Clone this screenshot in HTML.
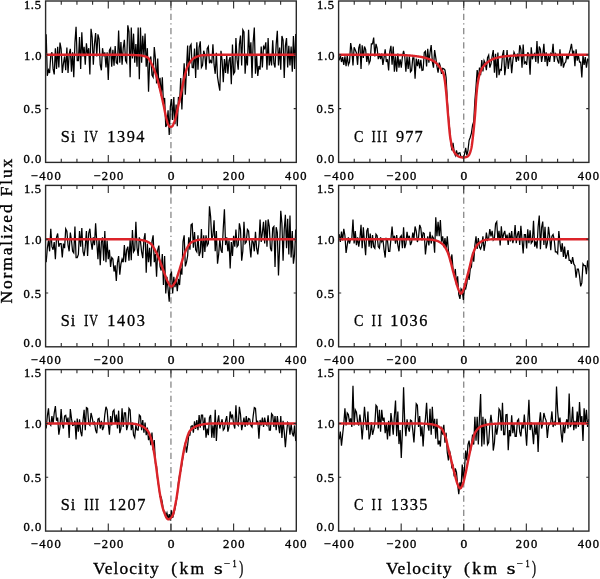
<!DOCTYPE html>
<html><head><meta charset="utf-8"><style>html,body{margin:0;padding:0;background:#fff;width:600px;height:579px;overflow:hidden}svg{display:block;will-change:transform}text{fill:#000}</style></head>
<body><svg width="600" height="579" viewBox="0 0 600 579"><clipPath id="c0"><rect x="45.6" y="1" width="250.7" height="161.4"/></clipPath><path d="M170.95 162.4V1" stroke="#7e7e7e" stroke-width="1.2" stroke-dasharray="6.2 3.4 1.3 3.35" stroke-dashoffset="0" fill="none"/><path clip-path="url(#c0)" d="M46.18 34.34 47.32 75.79 48.48 69.98 49.62 73.03 50.78 55.07 51.93 52.3 53.07 68.88 54.23 74.41 55.38 48.16 56.53 69.06 57.67 46.78 58.83 67.5 59.98 42.63 61.12 48.85 62.28 73.03 63.42 63.71 64.58 56.45 65.72 70.26 66.88 47.47 68.03 73.03 69.17 54.17 70.33 48.85 71.47 71.65 72.62 52.3 73.77 77.17 74.93 42.63 76.07 26.74 77.22 60.59 78.38 60.59 79.53 37.11 80.68 68.88 81.82 32.27 82.97 56.45 84.12 46.78 85.27 64.74 86.42 43.32 87.58 55.07 88.72 48.16 89.88 74.41 91.03 28.82 92.17 37.11 93.32 64.74 94.47 43.93 95.62 32.96 96.77 56.45 97.93 34.34 99.08 39.18 100.22 64.74 101.38 70.26 102.52 48.16 103.67 56.28 104.82 52.3 105.97 67.5 107.12 52.3 108.27 79.94 109.43 50.23 110.57 48.16 111.72 66.81 112.88 49.7 114.03 65.78 115.17 46.09 116.32 62.78 117.47 63.7 118.62 30.54 119.78 62.67 120.92 41.94 122.07 64.74 123.22 48.09 124.38 39.87 125.53 60.6 126.67 62.67 127.82 25.36 128.97 31.58 130.12 77.18 131.27 27.44 132.43 58.52 133.57 33.65 134.72 62.67 135.88 44.02 137.02 66.81 138.18 27.44 139.32 79.25 140.47 27.44 141.62 62.67 142.77 35.73 143.92 56.45 145.07 33.63 146.22 66.81 147.37 48.16 148.53 91.68 149.67 61.26 150.82 56.45 151.97 75.1 153.12 77.18 154.27 47.12 155.42 58.52 156.57 83.39 157.72 58.52 158.88 87.54 160.02 77.72 161.17 95.83 162.32 77.18 163.47 104.12 164.62 97.9 165.77 126.92 166.93 124.46 168.07 110.34 169.22 135 170.37 106.41 171.52 99.03 172.67 120.04 173.82 96.93 174.97 124.24 176.12 104.63 177.28 126.34 178.42 96.93 179.57 103.34 180.72 78.03 181.87 109.54 183.02 83.78 184.17 63.32 185.32 94.83 186.47 69.62 187.62 45.46 188.77 75.92 189.92 46.51 191.07 44.41 192.22 67.52 193.37 67.81 194.52 48.61 195.67 78.03 196.82 42.31 197.97 69.62 199.12 47.43 200.27 41.26 201.42 67.52 202.57 65.42 203.72 50.71 204.87 54.83 206.02 69.62 207.17 48.61 208.32 46.51 209.47 63.32 210.62 60.64 211.77 63.32 212.92 44.41 214.07 64.67 215.22 73.82 216.37 52.82 217.52 76.91 218.67 84.33 219.82 90.63 220.97 50.71 222.12 60.41 223.28 82.23 224.42 59.12 225.57 72.85 226.72 54.92 227.87 73.82 229.02 60.73 230.17 57.02 231.32 84.33 232.47 44.41 233.62 73.82 234.78 71.72 235.92 38.11 237.07 59.89 238.22 69.62 239.38 44.41 240.52 35.61 241.67 65.42 242.82 29.71 243.97 31.81 245.12 73.82 246.27 55.39 247.42 65.42 248.57 29.71 249.72 56.23 250.88 42.31 252.03 78.03 253.17 41.95 254.32 27.61 255.47 73.82 256.62 54.92 257.77 75.92 258.92 65.97 260.07 69.62 261.22 46.51 262.38 67.52 263.53 46.51 264.67 48.48 265.82 42.31 266.97 69.62 268.12 38.11 269.27 65.42 270.42 54.3 271.57 65.42 272.72 40.21 273.88 63.33 275.02 67.52 276.18 44.41 277.32 30.76 278.47 65.42 279.62 47.52 280.77 69.62 281.92 36.01 283.07 40.21 284.23 78.03 285.38 45.88 286.52 38.11 287.67 67.52 288.82 45.86 289.97 65.42 291.12 46.51 292.28 71.72 293.42 36.01 294.57 68.97 295.72 33.91 296.88 71.72 298.02 49.26" stroke="#000" stroke-width="1.25" fill="none" shape-rendering="auto"/><polyline points="45.6,54.8 45.91,54.8 46.23,54.8 46.54,54.8 46.85,54.8 47.17,54.8 47.48,54.8 47.79,54.8 48.11,54.8 48.42,54.8 48.73,54.8 49.05,54.8 49.36,54.8 49.67,54.8 49.99,54.8 50.3,54.8 50.61,54.8 50.93,54.8 51.24,54.8 51.55,54.8 51.87,54.8 52.18,54.8 52.49,54.8 52.81,54.8 53.12,54.8 53.43,54.8 53.75,54.8 54.06,54.8 54.37,54.8 54.69,54.8 55,54.8 55.31,54.8 55.63,54.8 55.94,54.8 56.25,54.8 56.57,54.8 56.88,54.8 57.19,54.8 57.51,54.8 57.82,54.8 58.14,54.8 58.45,54.8 58.76,54.8 59.08,54.8 59.39,54.8 59.7,54.8 60.02,54.8 60.33,54.8 60.64,54.8 60.96,54.8 61.27,54.8 61.58,54.8 61.9,54.8 62.21,54.8 62.52,54.8 62.84,54.8 63.15,54.8 63.46,54.8 63.78,54.8 64.09,54.8 64.4,54.8 64.72,54.8 65.03,54.8 65.34,54.8 65.66,54.8 65.97,54.8 66.28,54.8 66.6,54.8 66.91,54.8 67.22,54.8 67.54,54.8 67.85,54.8 68.16,54.8 68.48,54.8 68.79,54.8 69.1,54.8 69.42,54.8 69.73,54.8 70.04,54.8 70.36,54.8 70.67,54.8 70.98,54.8 71.3,54.8 71.61,54.8 71.92,54.8 72.24,54.8 72.55,54.8 72.86,54.8 73.18,54.8 73.49,54.8 73.8,54.8 74.12,54.8 74.43,54.8 74.74,54.8 75.06,54.8 75.37,54.8 75.68,54.8 76,54.8 76.31,54.8 76.62,54.8 76.94,54.8 77.25,54.8 77.56,54.8 77.88,54.8 78.19,54.8 78.5,54.8 78.82,54.8 79.13,54.8 79.44,54.8 79.76,54.8 80.07,54.8 80.38,54.8 80.7,54.8 81.01,54.8 81.32,54.8 81.64,54.8 81.95,54.8 82.26,54.8 82.58,54.8 82.89,54.8 83.21,54.8 83.52,54.8 83.83,54.8 84.15,54.8 84.46,54.8 84.77,54.8 85.09,54.8 85.4,54.8 85.71,54.8 86.03,54.8 86.34,54.8 86.65,54.8 86.97,54.8 87.28,54.8 87.59,54.8 87.91,54.8 88.22,54.8 88.53,54.8 88.85,54.8 89.16,54.8 89.47,54.8 89.79,54.8 90.1,54.8 90.41,54.8 90.73,54.8 91.04,54.8 91.35,54.8 91.67,54.8 91.98,54.8 92.29,54.8 92.61,54.8 92.92,54.8 93.23,54.8 93.55,54.8 93.86,54.8 94.17,54.8 94.49,54.8 94.8,54.8 95.11,54.8 95.43,54.8 95.74,54.8 96.05,54.8 96.37,54.8 96.68,54.8 96.99,54.8 97.31,54.8 97.62,54.8 97.93,54.8 98.25,54.8 98.56,54.8 98.87,54.8 99.19,54.8 99.5,54.8 99.81,54.8 100.13,54.8 100.44,54.8 100.75,54.8 101.07,54.8 101.38,54.8 101.69,54.8 102.01,54.8 102.32,54.8 102.63,54.8 102.95,54.8 103.26,54.8 103.57,54.8 103.89,54.8 104.2,54.8 104.51,54.8 104.83,54.8 105.14,54.8 105.45,54.8 105.77,54.8 106.08,54.8 106.39,54.8 106.71,54.8 107.02,54.8 107.33,54.8 107.65,54.8 107.96,54.8 108.28,54.8 108.59,54.8 108.9,54.8 109.22,54.8 109.53,54.8 109.84,54.8 110.16,54.8 110.47,54.8 110.78,54.8 111.1,54.8 111.41,54.8 111.72,54.8 112.04,54.8 112.35,54.8 112.66,54.8 112.98,54.8 113.29,54.8 113.6,54.8 113.92,54.8 114.23,54.8 114.54,54.8 114.86,54.8 115.17,54.8 115.48,54.8 115.8,54.8 116.11,54.8 116.42,54.8 116.74,54.8 117.05,54.8 117.36,54.8 117.68,54.8 117.99,54.8 118.3,54.8 118.62,54.8 118.93,54.8 119.24,54.8 119.56,54.8 119.87,54.8 120.18,54.8 120.5,54.8 120.81,54.8 121.12,54.8 121.44,54.8 121.75,54.8 122.06,54.8 122.38,54.8 122.69,54.8 123,54.8 123.32,54.8 123.63,54.8 123.94,54.8 124.26,54.8 124.57,54.8 124.88,54.8 125.2,54.8 125.51,54.81 125.82,54.81 126.14,54.81 126.45,54.81 126.76,54.82 127.08,54.82 127.39,54.83 127.7,54.83 128.02,54.84 128.33,54.84 128.64,54.85 128.96,54.86 129.27,54.87 129.58,54.87 129.9,54.88 130.21,54.89 130.52,54.9 130.84,54.91 131.15,54.92 131.46,54.93 131.78,54.94 132.09,54.95 132.4,54.96 132.72,54.97 133.03,54.99 133.34,55 133.66,55.01 133.97,55.03 134.29,55.04 134.6,55.05 134.91,55.07 135.23,55.08 135.54,55.1 135.85,55.12 136.17,55.13 136.48,55.15 136.79,55.17 137.11,55.18 137.42,55.2 137.73,55.22 138.05,55.24 138.36,55.26 138.67,55.28 138.99,55.3 139.3,55.32 139.61,55.34 139.93,55.36 140.24,55.39 140.55,55.42 140.87,55.46 141.18,55.5 141.49,55.54 141.81,55.59 142.12,55.64 142.43,55.7 142.75,55.77 143.06,55.84 143.37,55.91 143.69,55.99 144,56.07 144.31,56.16 144.63,56.26 144.94,56.35 145.25,56.46 145.57,56.57 145.88,56.69 146.19,56.81 146.51,56.93 146.82,57.07 147.13,57.2 147.45,57.36 147.76,57.57 148.07,57.86 148.39,58.2 148.7,58.6 149.01,59.06 149.33,59.55 149.64,60.09 149.95,60.66 150.27,61.26 150.58,61.89 150.89,62.53 151.21,63.19 151.52,63.85 151.83,64.51 152.15,65.17 152.46,65.82 152.77,66.47 153.09,67.16 153.4,67.87 153.71,68.61 154.03,69.38 154.34,70.17 154.65,70.99 154.97,71.83 155.28,72.7 155.59,73.59 155.91,74.51 156.22,75.44 156.53,76.4 156.85,77.38 157.16,78.4 157.47,79.48 157.79,80.61 158.1,81.77 158.41,82.98 158.73,84.21 159.04,85.46 159.36,86.74 159.67,88.02 159.98,89.3 160.3,90.59 160.61,91.89 160.92,93.21 161.24,94.55 161.55,95.91 161.86,97.29 162.18,98.69 162.49,100.1 162.8,101.52 163.12,102.95 163.43,104.39 163.74,105.84 164.06,107.35 164.37,108.93 164.68,110.56 165,112.18 165.31,113.78 165.62,115.31 165.94,116.74 166.25,118.04 166.56,119.23 166.88,120.4 167.19,121.51 167.5,122.54 167.82,123.45 168.13,124.21 168.44,124.81 168.76,125.39 169.07,125.93 169.38,126.39 169.7,126.72 170.01,126.88 170.32,126.89 170.64,126.86 170.95,126.81 171.26,126.75 171.58,126.66 171.89,126.57 172.2,126.35 172.52,125.92 172.83,125.33 173.14,124.64 173.46,123.88 173.77,123.11 174.08,122.37 174.4,121.59 174.71,120.74 175.02,119.82 175.34,118.82 175.65,117.72 175.96,116.45 176.28,115.05 176.59,113.57 176.9,112.05 177.22,110.55 177.53,109.11 177.84,107.71 178.16,106.33 178.47,104.95 178.78,103.58 179.1,102.21 179.41,100.83 179.72,99.45 180.04,98.06 180.35,96.65 180.66,95.23 180.98,93.79 181.29,92.3 181.6,90.75 181.92,89.15 182.23,87.53 182.54,85.9 182.86,84.28 183.17,82.7 183.49,81.16 183.8,79.7 184.11,78.32 184.43,77.06 184.74,75.85 185.05,74.65 185.37,73.47 185.68,72.32 185.99,71.21 186.31,70.15 186.62,69.15 186.93,68.22 187.25,67.37 187.56,66.61 187.87,65.94 188.19,65.35 188.5,64.77 188.81,64.21 189.13,63.67 189.44,63.15 189.75,62.65 190.07,62.17 190.38,61.7 190.69,61.26 191.01,60.85 191.32,60.45 191.63,60.08 191.95,59.73 192.26,59.41 192.57,59.11 192.89,58.83 193.2,58.58 193.51,58.36 193.83,58.17 194.14,58 194.45,57.83 194.77,57.66 195.08,57.5 195.39,57.34 195.71,57.19 196.02,57.04 196.33,56.9 196.65,56.76 196.96,56.63 197.27,56.5 197.59,56.37 197.9,56.25 198.21,56.14 198.53,56.03 198.84,55.93 199.15,55.84 199.47,55.75 199.78,55.66 200.09,55.59 200.41,55.52 200.72,55.45 201.03,55.4 201.35,55.35 201.66,55.31 201.97,55.27 202.29,55.24 202.6,55.23 202.91,55.21 203.23,55.19 203.54,55.17 203.85,55.16 204.17,55.14 204.48,55.13 204.79,55.11 205.11,55.1 205.42,55.08 205.73,55.07 206.05,55.06 206.36,55.04 206.67,55.03 206.99,55.02 207.3,55 207.61,54.99 207.93,54.98 208.24,54.97 208.56,54.96 208.87,54.95 209.18,54.94 209.5,54.93 209.81,54.92 210.12,54.91 210.44,54.9 210.75,54.89 211.06,54.89 211.38,54.88 211.69,54.87 212,54.86 212.32,54.86 212.63,54.85 212.94,54.85 213.26,54.84 213.57,54.83 213.88,54.83 214.2,54.83 214.51,54.82 214.82,54.82 215.14,54.81 215.45,54.81 215.76,54.81 216.08,54.81 216.39,54.8 216.7,54.8 217.02,54.8 217.33,54.8 217.64,54.8 217.96,54.8 218.27,54.8 218.58,54.8 218.9,54.8 219.21,54.8 219.52,54.8 219.84,54.8 220.15,54.8 220.46,54.8 220.78,54.8 221.09,54.8 221.4,54.8 221.72,54.8 222.03,54.8 222.34,54.8 222.66,54.8 222.97,54.8 223.28,54.8 223.6,54.8 223.91,54.8 224.22,54.8 224.54,54.8 224.85,54.8 225.16,54.8 225.48,54.8 225.79,54.8 226.1,54.8 226.42,54.8 226.73,54.8 227.04,54.8 227.36,54.8 227.67,54.8 227.98,54.8 228.3,54.8 228.61,54.8 228.92,54.8 229.24,54.8 229.55,54.8 229.86,54.8 230.18,54.8 230.49,54.8 230.8,54.8 231.12,54.8 231.43,54.8 231.74,54.8 232.06,54.8 232.37,54.8 232.68,54.8 233,54.8 233.31,54.8 233.62,54.8 233.94,54.8 234.25,54.8 234.57,54.8 234.88,54.8 235.19,54.8 235.51,54.8 235.82,54.8 236.13,54.8 236.45,54.8 236.76,54.8 237.07,54.8 237.39,54.8 237.7,54.8 238.01,54.8 238.33,54.8 238.64,54.8 238.95,54.8 239.27,54.8 239.58,54.8 239.89,54.8 240.21,54.8 240.52,54.8 240.83,54.8 241.15,54.8 241.46,54.8 241.77,54.8 242.09,54.8 242.4,54.8 242.71,54.8 243.03,54.8 243.34,54.8 243.65,54.8 243.97,54.8 244.28,54.8 244.59,54.8 244.91,54.8 245.22,54.8 245.53,54.8 245.85,54.8 246.16,54.8 246.47,54.8 246.79,54.8 247.1,54.8 247.41,54.8 247.73,54.8 248.04,54.8 248.35,54.8 248.67,54.8 248.98,54.8 249.29,54.8 249.61,54.8 249.92,54.8 250.23,54.8 250.55,54.8 250.86,54.8 251.17,54.8 251.49,54.8 251.8,54.8 252.11,54.8 252.43,54.8 252.74,54.8 253.05,54.8 253.37,54.8 253.68,54.8 253.99,54.8 254.31,54.8 254.62,54.8 254.93,54.8 255.25,54.8 255.56,54.8 255.87,54.8 256.19,54.8 256.5,54.8 256.81,54.8 257.13,54.8 257.44,54.8 257.75,54.8 258.07,54.8 258.38,54.8 258.69,54.8 259.01,54.8 259.32,54.8 259.64,54.8 259.95,54.8 260.26,54.8 260.58,54.8 260.89,54.8 261.2,54.8 261.52,54.8 261.83,54.8 262.14,54.8 262.46,54.8 262.77,54.8 263.08,54.8 263.4,54.8 263.71,54.8 264.02,54.8 264.34,54.8 264.65,54.8 264.96,54.8 265.28,54.8 265.59,54.8 265.9,54.8 266.22,54.8 266.53,54.8 266.84,54.8 267.16,54.8 267.47,54.8 267.78,54.8 268.1,54.8 268.41,54.8 268.72,54.8 269.04,54.8 269.35,54.8 269.66,54.8 269.98,54.8 270.29,54.8 270.6,54.8 270.92,54.8 271.23,54.8 271.54,54.8 271.86,54.8 272.17,54.8 272.48,54.8 272.8,54.8 273.11,54.8 273.42,54.8 273.74,54.8 274.05,54.8 274.36,54.8 274.68,54.8 274.99,54.8 275.3,54.8 275.62,54.8 275.93,54.8 276.24,54.8 276.56,54.8 276.87,54.8 277.18,54.8 277.5,54.8 277.81,54.8 278.12,54.8 278.44,54.8 278.75,54.8 279.06,54.8 279.38,54.8 279.69,54.8 280,54.8 280.32,54.8 280.63,54.8 280.94,54.8 281.26,54.8 281.57,54.8 281.88,54.8 282.2,54.8 282.51,54.8 282.82,54.8 283.14,54.8 283.45,54.8 283.76,54.8 284.08,54.8 284.39,54.8 284.71,54.8 285.02,54.8 285.33,54.8 285.65,54.8 285.96,54.8 286.27,54.8 286.59,54.8 286.9,54.8 287.21,54.8 287.53,54.8 287.84,54.8 288.15,54.8 288.47,54.8 288.78,54.8 289.09,54.8 289.41,54.8 289.72,54.8 290.03,54.8 290.35,54.8 290.66,54.8 290.97,54.8 291.29,54.8 291.6,54.8 291.91,54.8 292.23,54.8 292.54,54.8 292.85,54.8 293.17,54.8 293.48,54.8 293.79,54.8 294.11,54.8 294.42,54.8 294.73,54.8 295.05,54.8 295.36,54.8 295.67,54.8 295.99,54.8 296.3,54.8" stroke="#dc2329" stroke-width="2.4" fill="none" stroke-linejoin="round"/><rect x="45.6" y="1" width="250.7" height="161.4" fill="none" stroke="#2a2a2a" stroke-width="1.4"/><path d="M61.27 162.4v-3.7M61.27 1v3.7M76.94 162.4v-3.7M76.94 1v3.7M92.61 162.4v-3.7M92.61 1v3.7M108.28 162.4v-7.5M108.28 1v7.5M123.94 162.4v-3.7M123.94 1v3.7M139.61 162.4v-3.7M139.61 1v3.7M155.28 162.4v-3.7M155.28 1v3.7M170.95 162.4v-7.5M170.95 1v7.5M186.62 162.4v-3.7M186.62 1v3.7M202.29 162.4v-3.7M202.29 1v3.7M217.96 162.4v-3.7M217.96 1v3.7M233.62 162.4v-7.5M233.62 1v7.5M249.29 162.4v-3.7M249.29 1v3.7M264.96 162.4v-3.7M264.96 1v3.7M280.63 162.4v-3.7M280.63 1v3.7M45.6 108.6h2.6M296.3 108.6h-2.6M45.6 54.8h2.6M296.3 54.8h-2.6" stroke="#2a2a2a" stroke-width="1.1" fill="none"/><text x="23.95" y="9" style="font-family:'Liberation Serif',serif;font-size:12.5px;letter-spacing:0.68px;stroke:#000;stroke-width:0.35px">1.5</text><text x="24.1" y="59.6" style="font-family:'Liberation Serif',serif;font-size:12.5px;letter-spacing:0.85px;stroke:#000;stroke-width:0.35px">1.0</text><text x="23.57" y="113.4" style="font-family:'Liberation Serif',serif;font-size:12.5px;letter-spacing:0.87px;stroke:#000;stroke-width:0.35px">0.5</text><text x="23.57" y="162.7" style="font-family:'Liberation Serif',serif;font-size:12.5px;letter-spacing:0.99px;stroke:#000;stroke-width:0.35px">0.0</text><text x="30.63" y="179.5" style="font-family:'Liberation Serif',serif;font-size:12.5px;letter-spacing:1.47px;stroke:#000;stroke-width:0.35px">−400</text><text x="93.45" y="179.5" style="font-family:'Liberation Serif',serif;font-size:12.5px;letter-spacing:1.37px;stroke:#000;stroke-width:0.35px">−200</text><text x="167.79" y="179.5" textLength="6.72" lengthAdjust="spacingAndGlyphs" style="font-family:'Liberation Serif',serif;font-size:12.5px;stroke:#000;stroke-width:0.35px">0</text><text x="223.08" y="179.5" style="font-family:'Liberation Serif',serif;font-size:12.5px;letter-spacing:1.34px;stroke:#000;stroke-width:0.35px">200</text><text x="285.06" y="179.5" style="font-family:'Liberation Serif',serif;font-size:12.5px;letter-spacing:1.34px;stroke:#000;stroke-width:0.35px">400</text><text x="60.81" y="141.7" style="font-family:'Liberation Serif',serif;font-size:16.3px;letter-spacing:0.91px;stroke:#000;stroke-width:0.3px">Si</text><text x="83.92" y="141.7" textLength="4.45" lengthAdjust="spacingAndGlyphs" style="font-family:'Liberation Serif',serif;font-size:16.3px;stroke:#000;stroke-width:0.3px">I</text><text x="89.27" y="141.7" textLength="8.67" lengthAdjust="spacingAndGlyphs" style="font-family:'Liberation Serif',serif;font-size:16.3px;stroke:#000;stroke-width:0.3px">V</text><text x="107.37" y="141.7" style="font-family:'Liberation Serif',serif;font-size:16.3px;letter-spacing:1.5px;stroke:#000;stroke-width:0.3px">1394</text><clipPath id="c1"><rect x="338.6" y="1" width="250.3" height="161.4"/></clipPath><path d="M463.75 162.4V1" stroke="#7e7e7e" stroke-width="1.2" stroke-dasharray="6.2 3.4 1.3 3.35" stroke-dashoffset="0" fill="none"/><path clip-path="url(#c1)" d="M339.18 60.26 340.33 55.01 341.48 62.02 342.62 57.11 343.78 64.82 344.93 56.41 346.08 66.22 347.23 55.71 348.38 64.82 349.53 62.02 350.68 43.11 351.82 50.11 352.98 65.52 354.12 47.31 355.28 50.11 356.43 52.91 357.58 64.82 358.73 48.01 359.88 43.81 361.03 69.02 362.18 45.21 363.33 57.82 364.48 46.61 365.62 49.41 366.78 62.02 367.93 53.61 369.08 63.42 370.23 60.62 371.38 43.81 372.53 43.81 373.68 37.51 374.82 56.41 375.98 43.81 377.12 48.01 378.28 59.22 379.43 53.61 380.58 59.22 381.73 53.61 382.88 64.82 384.03 57.82 385.18 49.41 386.33 62.02 387.48 59.22 388.62 70.42 389.78 51.51 390.93 45.91 392.08 64.82 393.23 46.61 394.38 71.82 395.53 56.41 396.68 71.82 397.83 53.61 398.98 67.62 400.12 59.22 401.28 67.62 402.43 56.41 403.58 50.81 404.73 56.41 405.88 71.82 407.03 56.41 408.18 69.02 409.33 56.41 410.48 71.82 411.62 70.42 412.78 57.82 413.93 57.82 415.07 78.82 416.23 58.52 417.38 66.22 418.53 59.22 419.68 68.32 420.82 59.92 421.98 70.42 423.12 70.13 424.27 52.58 425.43 51.33 426.58 66.37 427.73 48.82 428.88 62.61 430.02 52.75 431.18 45.06 432.32 61.35 433.48 67.62 434.62 50.08 435.77 57.59 436.93 66.37 438.08 72.63 439.23 62.61 440.38 66.37 441.52 73.88 442.68 68.45 443.82 68.87 444.98 70.13 446.12 77.64 447.27 100.5 448.43 115.85 449.57 128.49 450.73 141.95 451.88 150.33 453.02 142.81 454.18 151.58 455.32 155.34 456.48 150.33 457.62 155.31 458.77 153.04 459.93 152.83 461.07 157.34 462.23 157 463.38 157.84 464.52 154.09 465.68 147.82 466.83 155.34 467.98 150.33 469.12 140.3 470.27 137.27 471.43 133.06 472.58 125.25 473.73 121.74 474.88 100.6 476.02 86.53 477.18 70.13 478.33 80.15 479.48 67.62 480.62 75.14 481.77 60.1 482.93 71.38 484.07 60.64 485.23 63.18 486.38 70.13 487.52 57.59 488.68 55.09 489.83 67.62 490.98 63.86 492.12 56.34 493.27 50.08 494.43 72.63 495.57 53.83 496.73 77.64 497.88 52.58 499.02 75.14 500.18 69.44 501.32 70.13 502.48 55.09 503.62 50.08 504.77 75.14 505.92 65.42 507.08 50.11 508.23 69.02 509.38 59.22 510.52 56.41 511.67 73.22 512.83 60.62 513.98 52.21 515.12 55.01 516.27 62.02 517.42 53.61 518.58 60.62 519.73 45.21 520.88 49.41 522.03 67.62 523.17 44.51 524.33 63.42 525.48 62.02 526.62 64.82 527.77 52.21 528.92 55.01 530.08 74.62 531.23 47.31 532.38 59.22 533.52 55.01 534.67 53.61 535.83 62.02 536.98 41.01 538.12 63.42 539.27 46.61 540.42 49.41 541.58 62.02 542.73 55.01 543.88 43.81 545.02 62.02 546.17 52.21 547.33 66.22 548.48 55.01 549.62 62.02 550.77 53.61 551.92 55.01 553.08 43.81 554.23 62.02 555.38 53.61 556.52 55.01 557.67 60.62 558.83 63.42 559.98 49.41 561.12 66.22 562.27 55.01 563.42 67.62 564.58 63.42 565.73 62.02 566.88 55.01 568.02 59.22 569.17 53.61 570.33 49.41 571.48 43.81 572.62 53.61 573.77 50.81 574.92 66.22 576.08 49.41 577.23 60.62 578.38 55.01 579.52 62.02 580.67 62.02 581.83 77.42 582.98 55.01 584.12 64.82 585.27 57.11 586.42 67.62 587.58 59.22 588.73 59.9 589.88 66.13" stroke="#000" stroke-width="1.25" fill="none" shape-rendering="auto"/><polyline points="338.6,54.8 338.91,54.8 339.23,54.8 339.54,54.8 339.85,54.8 340.16,54.8 340.48,54.8 340.79,54.8 341.1,54.8 341.42,54.8 341.73,54.8 342.04,54.8 342.35,54.8 342.67,54.8 342.98,54.8 343.29,54.8 343.61,54.8 343.92,54.8 344.23,54.8 344.54,54.8 344.86,54.8 345.17,54.8 345.48,54.8 345.8,54.8 346.11,54.8 346.42,54.8 346.73,54.8 347.05,54.8 347.36,54.8 347.67,54.8 347.99,54.8 348.3,54.8 348.61,54.8 348.92,54.8 349.24,54.8 349.55,54.8 349.86,54.8 350.18,54.8 350.49,54.8 350.8,54.8 351.12,54.8 351.43,54.8 351.74,54.8 352.05,54.8 352.37,54.8 352.68,54.8 352.99,54.8 353.31,54.8 353.62,54.8 353.93,54.8 354.24,54.8 354.56,54.8 354.87,54.8 355.18,54.8 355.5,54.8 355.81,54.8 356.12,54.8 356.43,54.8 356.75,54.8 357.06,54.8 357.37,54.8 357.69,54.8 358,54.8 358.31,54.8 358.62,54.8 358.94,54.8 359.25,54.8 359.56,54.8 359.88,54.8 360.19,54.8 360.5,54.8 360.81,54.8 361.13,54.8 361.44,54.8 361.75,54.8 362.07,54.8 362.38,54.8 362.69,54.8 363,54.8 363.32,54.8 363.63,54.8 363.94,54.8 364.26,54.8 364.57,54.8 364.88,54.8 365.19,54.8 365.51,54.8 365.82,54.8 366.13,54.8 366.45,54.8 366.76,54.8 367.07,54.8 367.38,54.8 367.7,54.8 368.01,54.8 368.32,54.8 368.64,54.8 368.95,54.8 369.26,54.8 369.57,54.8 369.89,54.8 370.2,54.8 370.51,54.8 370.83,54.8 371.14,54.8 371.45,54.8 371.76,54.8 372.08,54.8 372.39,54.8 372.7,54.8 373.02,54.8 373.33,54.8 373.64,54.8 373.95,54.8 374.27,54.8 374.58,54.8 374.89,54.8 375.21,54.8 375.52,54.8 375.83,54.8 376.14,54.8 376.46,54.8 376.77,54.8 377.08,54.8 377.4,54.8 377.71,54.8 378.02,54.8 378.34,54.8 378.65,54.8 378.96,54.8 379.27,54.8 379.59,54.8 379.9,54.8 380.21,54.8 380.53,54.8 380.84,54.8 381.15,54.8 381.46,54.8 381.78,54.8 382.09,54.8 382.4,54.8 382.72,54.8 383.03,54.8 383.34,54.8 383.65,54.8 383.97,54.8 384.28,54.8 384.59,54.8 384.91,54.8 385.22,54.8 385.53,54.8 385.84,54.8 386.16,54.8 386.47,54.8 386.78,54.8 387.1,54.8 387.41,54.8 387.72,54.8 388.03,54.8 388.35,54.8 388.66,54.8 388.97,54.8 389.29,54.8 389.6,54.8 389.91,54.8 390.22,54.8 390.54,54.8 390.85,54.8 391.16,54.8 391.48,54.8 391.79,54.81 392.1,54.81 392.41,54.81 392.73,54.82 393.04,54.82 393.35,54.82 393.67,54.83 393.98,54.83 394.29,54.84 394.6,54.84 394.92,54.85 395.23,54.86 395.54,54.87 395.86,54.87 396.17,54.88 396.48,54.89 396.79,54.9 397.11,54.91 397.42,54.92 397.73,54.92 398.05,54.93 398.36,54.94 398.67,54.96 398.98,54.97 399.3,54.98 399.61,54.99 399.92,55 400.24,55.01 400.55,55.02 400.86,55.04 401.18,55.05 401.49,55.06 401.8,55.07 402.11,55.09 402.43,55.1 402.74,55.11 403.05,55.13 403.37,55.14 403.68,55.16 403.99,55.17 404.3,55.19 404.62,55.2 404.93,55.22 405.24,55.23 405.56,55.25 405.87,55.26 406.18,55.28 406.49,55.29 406.81,55.31 407.12,55.32 407.43,55.34 407.75,55.35 408.06,55.37 408.37,55.39 408.68,55.41 409,55.43 409.31,55.45 409.62,55.48 409.94,55.5 410.25,55.53 410.56,55.56 410.87,55.58 411.19,55.61 411.5,55.64 411.81,55.67 412.13,55.7 412.44,55.74 412.75,55.77 413.06,55.81 413.38,55.84 413.69,55.88 414,55.91 414.32,55.95 414.63,55.99 414.94,56.03 415.25,56.07 415.57,56.11 415.88,56.15 416.19,56.19 416.51,56.24 416.82,56.28 417.13,56.32 417.44,56.37 417.76,56.41 418.07,56.46 418.38,56.5 418.7,56.55 419.01,56.59 419.32,56.64 419.63,56.69 419.95,56.74 420.26,56.79 420.57,56.84 420.89,56.89 421.2,56.95 421.51,57.01 421.82,57.07 422.14,57.14 422.45,57.2 422.76,57.27 423.08,57.34 423.39,57.41 423.7,57.49 424.01,57.56 424.33,57.64 424.64,57.72 424.95,57.8 425.27,57.88 425.58,57.96 425.89,58.05 426.2,58.15 426.52,58.24 426.83,58.34 427.14,58.44 427.46,58.55 427.77,58.65 428.08,58.76 428.4,58.87 428.71,58.98 429.02,59.1 429.33,59.21 429.65,59.33 429.96,59.44 430.27,59.55 430.59,59.67 430.9,59.79 431.21,59.91 431.52,60.03 431.84,60.16 432.15,60.3 432.46,60.44 432.78,60.59 433.09,60.75 433.4,60.92 433.71,61.1 434.03,61.29 434.34,61.5 434.65,61.72 434.97,61.96 435.28,62.22 435.59,62.48 435.9,62.76 436.22,63.06 436.53,63.36 436.84,63.67 437.16,64 437.47,64.33 437.78,64.67 438.09,65.02 438.41,65.4 438.72,65.81 439.03,66.24 439.35,66.7 439.66,67.18 439.97,67.67 440.28,68.16 440.6,68.67 440.91,69.17 441.22,69.67 441.54,70.16 441.85,70.61 442.16,71.04 442.47,71.5 442.79,72.02 443.1,72.65 443.41,73.44 443.73,74.58 444.04,76.05 444.35,77.77 444.66,79.67 444.98,81.68 445.29,84.04 445.6,86.76 445.92,89.76 446.23,92.9 446.54,96.24 446.85,99.95 447.17,103.89 447.48,107.9 447.79,111.82 448.11,115.49 448.42,119.05 448.73,122.69 449.04,126.27 449.36,129.68 449.67,132.81 449.98,135.52 450.3,137.73 450.61,139.69 450.92,141.5 451.24,143.16 451.55,144.65 451.86,145.97 452.17,147.1 452.49,148.05 452.8,148.89 453.11,149.68 453.43,150.41 453.74,151.09 454.05,151.71 454.36,152.28 454.68,152.79 454.99,153.25 455.3,153.66 455.62,154.01 455.93,154.33 456.24,154.63 456.55,154.92 456.87,155.2 457.18,155.46 457.49,155.71 457.81,155.94 458.12,156.15 458.43,156.35 458.74,156.52 459.06,156.68 459.37,156.81 459.68,156.93 460,157.02 460.31,157.1 460.62,157.18 460.93,157.25 461.25,157.32 461.56,157.39 461.87,157.44 462.19,157.49 462.5,157.52 462.81,157.55 463.12,157.56 463.44,157.55 463.75,157.53 464.06,157.5 464.38,157.46 464.69,157.4 465,157.34 465.31,157.27 465.63,157.19 465.94,157.11 466.25,157.02 466.57,156.92 466.88,156.79 467.19,156.62 467.5,156.43 467.82,156.21 468.13,155.96 468.44,155.67 468.76,155.34 469.07,154.89 469.38,154.31 469.69,153.61 470.01,152.8 470.32,151.88 470.63,150.85 470.95,149.73 471.26,148.51 471.57,147.14 471.88,145.24 472.2,142.91 472.51,140.32 472.82,137.64 473.14,134.96 473.45,132.12 473.76,129.13 474.07,125.97 474.39,122.65 474.7,119.16 475.01,115.49 475.33,111.27 475.64,106.45 475.95,101.53 476.26,96.99 476.58,93.31 476.89,90.19 477.2,87.37 477.52,84.9 477.83,82.78 478.14,80.91 478.46,79.17 478.77,77.58 479.08,76.14 479.39,74.88 479.71,73.81 480.02,72.9 480.33,72.06 480.65,71.28 480.96,70.55 481.27,69.88 481.58,69.26 481.9,68.68 482.21,68.14 482.52,67.64 482.84,67.16 483.15,66.72 483.46,66.3 483.77,65.9 484.09,65.52 484.4,65.16 484.71,64.82 485.03,64.49 485.34,64.17 485.65,63.87 485.96,63.58 486.28,63.31 486.59,63.05 486.9,62.79 487.22,62.55 487.53,62.31 487.84,62.08 488.15,61.85 488.47,61.62 488.78,61.4 489.09,61.19 489.41,60.97 489.72,60.77 490.03,60.57 490.34,60.37 490.66,60.18 490.97,60 491.28,59.83 491.6,59.66 491.91,59.5 492.22,59.35 492.53,59.2 492.85,59.07 493.16,58.94 493.47,58.83 493.79,58.72 494.1,58.61 494.41,58.51 494.72,58.41 495.04,58.31 495.35,58.22 495.66,58.13 495.98,58.04 496.29,57.95 496.6,57.87 496.91,57.79 497.23,57.71 497.54,57.64 497.85,57.56 498.17,57.49 498.48,57.42 498.79,57.35 499.1,57.29 499.42,57.22 499.73,57.16 500.04,57.1 500.36,57.04 500.67,56.99 500.98,56.93 501.29,56.88 501.61,56.83 501.92,56.78 502.23,56.73 502.55,56.69 502.86,56.64 503.17,56.59 503.49,56.55 503.8,56.51 504.11,56.46 504.42,56.42 504.74,56.38 505.05,56.34 505.36,56.3 505.68,56.27 505.99,56.23 506.3,56.19 506.61,56.16 506.93,56.12 507.24,56.09 507.55,56.06 507.87,56.03 508.18,56 508.49,55.97 508.8,55.94 509.12,55.91 509.43,55.88 509.74,55.86 510.06,55.83 510.37,55.81 510.68,55.78 510.99,55.76 511.31,55.74 511.62,55.72 511.93,55.7 512.25,55.67 512.56,55.65 512.87,55.63 513.18,55.61 513.5,55.59 513.81,55.57 514.12,55.56 514.44,55.54 514.75,55.52 515.06,55.5 515.37,55.48 515.69,55.47 516,55.45 516.31,55.43 516.63,55.42 516.94,55.4 517.25,55.39 517.56,55.37 517.88,55.36 518.19,55.34 518.5,55.33 518.82,55.32 519.13,55.3 519.44,55.29 519.75,55.28 520.07,55.27 520.38,55.26 520.69,55.25 521.01,55.24 521.32,55.23 521.63,55.22 521.94,55.21 522.26,55.2 522.57,55.19 522.88,55.18 523.2,55.17 523.51,55.16 523.82,55.15 524.13,55.14 524.45,55.13 524.76,55.12 525.07,55.11 525.39,55.1 525.7,55.09 526.01,55.08 526.33,55.07 526.64,55.06 526.95,55.06 527.26,55.05 527.58,55.04 527.89,55.03 528.2,55.02 528.52,55.01 528.83,55 529.14,55 529.45,54.99 529.77,54.98 530.08,54.97 530.39,54.96 530.71,54.96 531.02,54.95 531.33,54.94 531.64,54.93 531.96,54.93 532.27,54.92 532.58,54.91 532.9,54.9 533.21,54.9 533.52,54.89 533.83,54.89 534.15,54.88 534.46,54.87 534.77,54.87 535.09,54.86 535.4,54.86 535.71,54.85 536.02,54.85 536.34,54.84 536.65,54.84 536.96,54.83 537.28,54.83 537.59,54.83 537.9,54.82 538.21,54.82 538.53,54.82 538.84,54.81 539.15,54.81 539.47,54.81 539.78,54.81 540.09,54.81 540.4,54.8 540.72,54.8 541.03,54.8 541.34,54.8 541.66,54.8 541.97,54.8 542.28,54.8 542.59,54.8 542.91,54.8 543.22,54.8 543.53,54.8 543.85,54.8 544.16,54.8 544.47,54.8 544.78,54.8 545.1,54.8 545.41,54.8 545.72,54.8 546.04,54.8 546.35,54.8 546.66,54.8 546.97,54.8 547.29,54.8 547.6,54.8 547.91,54.8 548.23,54.8 548.54,54.8 548.85,54.8 549.16,54.8 549.48,54.8 549.79,54.8 550.1,54.8 550.42,54.8 550.73,54.8 551.04,54.8 551.36,54.8 551.67,54.8 551.98,54.8 552.29,54.8 552.61,54.8 552.92,54.8 553.23,54.8 553.55,54.8 553.86,54.8 554.17,54.8 554.48,54.8 554.8,54.8 555.11,54.8 555.42,54.8 555.74,54.8 556.05,54.8 556.36,54.8 556.67,54.8 556.99,54.8 557.3,54.8 557.61,54.8 557.93,54.8 558.24,54.8 558.55,54.8 558.86,54.8 559.18,54.8 559.49,54.8 559.8,54.8 560.12,54.8 560.43,54.8 560.74,54.8 561.05,54.8 561.37,54.8 561.68,54.8 561.99,54.8 562.31,54.8 562.62,54.8 562.93,54.8 563.24,54.8 563.56,54.8 563.87,54.8 564.18,54.8 564.5,54.8 564.81,54.8 565.12,54.8 565.43,54.8 565.75,54.8 566.06,54.8 566.37,54.8 566.69,54.8 567,54.8 567.31,54.8 567.62,54.8 567.94,54.8 568.25,54.8 568.56,54.8 568.88,54.8 569.19,54.8 569.5,54.8 569.81,54.8 570.13,54.8 570.44,54.8 570.75,54.8 571.07,54.8 571.38,54.8 571.69,54.8 572,54.8 572.32,54.8 572.63,54.8 572.94,54.8 573.26,54.8 573.57,54.8 573.88,54.8 574.19,54.8 574.51,54.8 574.82,54.8 575.13,54.8 575.45,54.8 575.76,54.8 576.07,54.8 576.38,54.8 576.7,54.8 577.01,54.8 577.32,54.8 577.64,54.8 577.95,54.8 578.26,54.8 578.58,54.8 578.89,54.8 579.2,54.8 579.51,54.8 579.83,54.8 580.14,54.8 580.45,54.8 580.77,54.8 581.08,54.8 581.39,54.8 581.7,54.8 582.02,54.8 582.33,54.8 582.64,54.8 582.96,54.8 583.27,54.8 583.58,54.8 583.89,54.8 584.21,54.8 584.52,54.8 584.83,54.8 585.15,54.8 585.46,54.8 585.77,54.8 586.08,54.8 586.4,54.8 586.71,54.8 587.02,54.8 587.34,54.8 587.65,54.8 587.96,54.8 588.27,54.8 588.59,54.8 588.9,54.8" stroke="#dc2329" stroke-width="2.4" fill="none" stroke-linejoin="round"/><rect x="338.6" y="1" width="250.3" height="161.4" fill="none" stroke="#2a2a2a" stroke-width="1.4"/><path d="M354.24 162.4v-3.7M354.24 1v3.7M369.89 162.4v-3.7M369.89 1v3.7M385.53 162.4v-3.7M385.53 1v3.7M401.18 162.4v-7.5M401.18 1v7.5M416.82 162.4v-3.7M416.82 1v3.7M432.46 162.4v-3.7M432.46 1v3.7M448.11 162.4v-3.7M448.11 1v3.7M463.75 162.4v-7.5M463.75 1v7.5M479.39 162.4v-3.7M479.39 1v3.7M495.04 162.4v-3.7M495.04 1v3.7M510.68 162.4v-3.7M510.68 1v3.7M526.33 162.4v-7.5M526.33 1v7.5M541.97 162.4v-3.7M541.97 1v3.7M557.61 162.4v-3.7M557.61 1v3.7M573.26 162.4v-3.7M573.26 1v3.7M338.6 108.6h2.6M588.9 108.6h-2.6M338.6 54.8h2.6M588.9 54.8h-2.6" stroke="#2a2a2a" stroke-width="1.1" fill="none"/><text x="316.95" y="9" style="font-family:'Liberation Serif',serif;font-size:12.5px;letter-spacing:0.68px;stroke:#000;stroke-width:0.35px">1.5</text><text x="317.1" y="59.6" style="font-family:'Liberation Serif',serif;font-size:12.5px;letter-spacing:0.85px;stroke:#000;stroke-width:0.35px">1.0</text><text x="316.57" y="113.4" style="font-family:'Liberation Serif',serif;font-size:12.5px;letter-spacing:0.87px;stroke:#000;stroke-width:0.35px">0.5</text><text x="316.57" y="162.7" style="font-family:'Liberation Serif',serif;font-size:12.5px;letter-spacing:0.99px;stroke:#000;stroke-width:0.35px">0.0</text><text x="323.63" y="179.5" style="font-family:'Liberation Serif',serif;font-size:12.5px;letter-spacing:1.47px;stroke:#000;stroke-width:0.35px">−400</text><text x="386.35" y="179.5" style="font-family:'Liberation Serif',serif;font-size:12.5px;letter-spacing:1.37px;stroke:#000;stroke-width:0.35px">−200</text><text x="460.59" y="179.5" textLength="6.72" lengthAdjust="spacingAndGlyphs" style="font-family:'Liberation Serif',serif;font-size:12.5px;stroke:#000;stroke-width:0.35px">0</text><text x="515.78" y="179.5" style="font-family:'Liberation Serif',serif;font-size:12.5px;letter-spacing:1.34px;stroke:#000;stroke-width:0.35px">200</text><text x="577.66" y="179.5" style="font-family:'Liberation Serif',serif;font-size:12.5px;letter-spacing:1.34px;stroke:#000;stroke-width:0.35px">400</text><text x="354.02" y="141.7" textLength="9.47" lengthAdjust="spacingAndGlyphs" style="font-family:'Liberation Serif',serif;font-size:16.3px;stroke:#000;stroke-width:0.3px">C</text><text x="371.53" y="141.7" textLength="4.33" lengthAdjust="spacingAndGlyphs" style="font-family:'Liberation Serif',serif;font-size:16.3px;stroke:#000;stroke-width:0.3px">I</text><text x="377.08" y="141.7" textLength="4.33" lengthAdjust="spacingAndGlyphs" style="font-family:'Liberation Serif',serif;font-size:16.3px;stroke:#000;stroke-width:0.3px">I</text><text x="382.63" y="141.7" textLength="4.33" lengthAdjust="spacingAndGlyphs" style="font-family:'Liberation Serif',serif;font-size:16.3px;stroke:#000;stroke-width:0.3px">I</text><text x="396.07" y="141.7" style="font-family:'Liberation Serif',serif;font-size:16.3px;letter-spacing:1.02px;stroke:#000;stroke-width:0.3px">977</text><clipPath id="c2"><rect x="45.6" y="185.4" width="250.7" height="161.4"/></clipPath><path d="M170.95 346.8V185.4" stroke="#7e7e7e" stroke-width="1.2" stroke-dasharray="6.2 3.4 1.3 3.35" stroke-dashoffset="-0.5" fill="none"/><path clip-path="url(#c2)" d="M46.18 262.21 47.32 248.21 48.48 240.44 49.62 251.32 50.78 228.77 51.93 246.66 53.07 249.77 54.23 241.99 55.38 259.1 56.53 237.33 57.67 233.44 58.83 246.66 59.98 243.55 61.12 243.55 62.28 257.54 63.42 243.55 64.58 248.21 65.72 228.77 66.88 231.1 68.03 245.1 69.17 251.32 70.33 232.66 71.47 240.44 72.62 251.32 73.77 252.88 74.93 226.44 76.07 257.54 77.22 257.54 78.38 254.43 79.53 231.1 80.68 246.66 81.82 227.99 82.97 251.32 84.12 255.99 85.27 246.66 86.42 231.1 87.58 255.99 88.72 233.4 89.88 228.77 91.03 241.99 92.17 249.77 93.32 237.33 94.47 245.1 95.62 223.33 96.77 241.99 97.93 259.1 99.08 238.1 100.22 265.32 101.38 241.99 102.52 237.33 103.67 260.65 104.82 231.1 105.97 262.21 107.12 240.44 108.27 259.1 109.43 249.77 110.57 266.87 111.72 257.54 112.88 259.1 114.03 271.54 115.17 265.32 116.32 280.87 117.47 262.21 118.62 255.99 119.78 274.65 120.92 263.76 122.07 259.1 123.22 262.21 124.38 245.1 125.53 262.21 126.67 249.77 127.82 246.66 128.97 260.65 130.12 239.42 131.27 260.17 132.43 230.08 133.57 251.87 134.72 249.79 135.88 221.78 137.02 247.72 138.18 256.02 139.32 237.34 140.47 241.49 141.62 251.87 142.77 258.09 143.92 239.42 145.07 233.2 146.22 272.61 147.37 243.57 148.53 262.24 149.67 247.72 150.82 266.39 151.97 241.49 153.12 235.27 154.27 262.24 155.42 253.94 156.57 276.76 157.72 249.79 158.88 245.64 160.02 266.39 161.17 270.54 162.32 253.94 163.47 285.06 164.62 256.02 165.77 293.36 166.93 276.76 168.07 289.21 169.22 301.66 170.37 274.69 171.52 272.61 172.67 293.36 173.82 276.76 174.97 287.14 176.12 278.84 177.28 291.29 178.42 278.84 179.57 285.06 180.72 268.46 181.87 274.69 183.02 241.49 184.17 235.27 185.32 266.39 186.47 262.24 187.62 256.02 188.77 237.34 189.92 249.79 191.07 224.9 192.22 223.86 193.37 247.72 194.52 232.16 195.67 249.79 196.82 251.87 197.97 235.27 199.12 256.02 200.27 251.87 201.42 229.05 202.57 258.09 203.72 235.27 204.87 251.87 206.02 235.27 207.17 245.64 208.32 243.57 209.47 206.22 210.62 216.6 211.77 239.42 212.92 235.16 214.07 220.22 215.22 251.32 216.37 231.1 217.52 263.76 218.67 254.43 219.82 238.88 220.97 250.03 222.12 252.88 223.28 227.99 224.42 209.33 225.57 245.1 226.72 237.33 227.87 251.32 229.02 240.44 230.17 268.43 231.32 241.99 232.47 255.99 233.62 235.77 234.78 246.66 235.92 229.55 237.07 246.66 238.22 245.1 239.38 223.33 240.52 229.55 241.67 260.65 242.82 251.32 243.97 221.77 245.12 243.55 246.27 241.99 247.42 229.55 248.57 231.1 249.72 245.1 250.88 257.54 252.03 240.44 253.17 241.99 254.32 251.32 255.47 231.88 256.62 248.21 257.77 254.43 258.92 243.55 260.07 219.44 261.22 241.99 262.38 232.66 263.53 221.77 264.67 243.55 265.82 220.22 266.97 246.66 268.12 219.44 269.27 226.44 270.42 248.21 271.57 251.32 272.72 227.99 273.88 226.44 275.02 266.87 276.18 227.22 277.32 232.66 278.47 275.43 279.62 246.66 280.77 210.89 281.92 223.33 283.07 260.65 284.23 229.55 285.38 214.77 286.52 248.21 287.67 218.66 288.82 254.43 289.97 215.55 291.12 257.54 292.28 231.1 293.42 263.76 294.57 254.43 295.72 229.55 296.88 248 298.02 245.51" stroke="#000" stroke-width="1.25" fill="none" shape-rendering="auto"/><polyline points="45.6,239.2 45.91,239.2 46.23,239.2 46.54,239.2 46.85,239.2 47.17,239.2 47.48,239.2 47.79,239.2 48.11,239.2 48.42,239.2 48.73,239.2 49.05,239.2 49.36,239.2 49.67,239.2 49.99,239.2 50.3,239.2 50.61,239.2 50.93,239.2 51.24,239.2 51.55,239.2 51.87,239.2 52.18,239.2 52.49,239.2 52.81,239.2 53.12,239.2 53.43,239.2 53.75,239.2 54.06,239.2 54.37,239.2 54.69,239.2 55,239.2 55.31,239.2 55.63,239.2 55.94,239.2 56.25,239.2 56.57,239.2 56.88,239.2 57.19,239.2 57.51,239.2 57.82,239.2 58.14,239.2 58.45,239.2 58.76,239.2 59.08,239.2 59.39,239.2 59.7,239.2 60.02,239.2 60.33,239.2 60.64,239.2 60.96,239.2 61.27,239.2 61.58,239.2 61.9,239.2 62.21,239.2 62.52,239.2 62.84,239.2 63.15,239.2 63.46,239.2 63.78,239.2 64.09,239.2 64.4,239.2 64.72,239.2 65.03,239.2 65.34,239.2 65.66,239.2 65.97,239.2 66.28,239.2 66.6,239.2 66.91,239.2 67.22,239.2 67.54,239.2 67.85,239.2 68.16,239.2 68.48,239.2 68.79,239.2 69.1,239.2 69.42,239.2 69.73,239.2 70.04,239.2 70.36,239.2 70.67,239.2 70.98,239.2 71.3,239.2 71.61,239.2 71.92,239.2 72.24,239.2 72.55,239.2 72.86,239.2 73.18,239.2 73.49,239.2 73.8,239.2 74.12,239.2 74.43,239.2 74.74,239.2 75.06,239.2 75.37,239.2 75.68,239.2 76,239.2 76.31,239.2 76.62,239.2 76.94,239.2 77.25,239.2 77.56,239.2 77.88,239.2 78.19,239.2 78.5,239.2 78.82,239.2 79.13,239.2 79.44,239.2 79.76,239.2 80.07,239.2 80.38,239.2 80.7,239.2 81.01,239.2 81.32,239.2 81.64,239.2 81.95,239.2 82.26,239.2 82.58,239.2 82.89,239.2 83.21,239.2 83.52,239.2 83.83,239.2 84.15,239.2 84.46,239.2 84.77,239.2 85.09,239.2 85.4,239.2 85.71,239.2 86.03,239.2 86.34,239.2 86.65,239.2 86.97,239.2 87.28,239.2 87.59,239.2 87.91,239.2 88.22,239.2 88.53,239.2 88.85,239.2 89.16,239.2 89.47,239.2 89.79,239.2 90.1,239.2 90.41,239.2 90.73,239.2 91.04,239.2 91.35,239.2 91.67,239.2 91.98,239.2 92.29,239.2 92.61,239.2 92.92,239.2 93.23,239.2 93.55,239.2 93.86,239.2 94.17,239.2 94.49,239.2 94.8,239.2 95.11,239.2 95.43,239.2 95.74,239.2 96.05,239.2 96.37,239.2 96.68,239.2 96.99,239.2 97.31,239.2 97.62,239.2 97.93,239.2 98.25,239.2 98.56,239.2 98.87,239.2 99.19,239.2 99.5,239.2 99.81,239.2 100.13,239.2 100.44,239.2 100.75,239.2 101.07,239.2 101.38,239.2 101.69,239.2 102.01,239.2 102.32,239.2 102.63,239.2 102.95,239.2 103.26,239.2 103.57,239.2 103.89,239.2 104.2,239.2 104.51,239.2 104.83,239.2 105.14,239.2 105.45,239.2 105.77,239.2 106.08,239.2 106.39,239.2 106.71,239.2 107.02,239.2 107.33,239.2 107.65,239.2 107.96,239.2 108.28,239.2 108.59,239.2 108.9,239.2 109.22,239.2 109.53,239.2 109.84,239.2 110.16,239.2 110.47,239.2 110.78,239.2 111.1,239.2 111.41,239.2 111.72,239.2 112.04,239.2 112.35,239.2 112.66,239.2 112.98,239.2 113.29,239.2 113.6,239.2 113.92,239.2 114.23,239.2 114.54,239.2 114.86,239.2 115.17,239.2 115.48,239.2 115.8,239.2 116.11,239.2 116.42,239.2 116.74,239.2 117.05,239.2 117.36,239.2 117.68,239.2 117.99,239.2 118.3,239.2 118.62,239.2 118.93,239.2 119.24,239.2 119.56,239.2 119.87,239.2 120.18,239.2 120.5,239.2 120.81,239.2 121.12,239.2 121.44,239.2 121.75,239.2 122.06,239.2 122.38,239.2 122.69,239.2 123,239.2 123.32,239.2 123.63,239.2 123.94,239.2 124.26,239.2 124.57,239.2 124.88,239.2 125.2,239.2 125.51,239.2 125.82,239.2 126.14,239.2 126.45,239.2 126.76,239.2 127.08,239.2 127.39,239.2 127.7,239.2 128.02,239.2 128.33,239.2 128.64,239.2 128.96,239.2 129.27,239.2 129.58,239.2 129.9,239.2 130.21,239.2 130.52,239.2 130.84,239.2 131.15,239.21 131.46,239.21 131.78,239.22 132.09,239.23 132.4,239.24 132.72,239.25 133.03,239.27 133.34,239.28 133.66,239.3 133.97,239.31 134.29,239.33 134.6,239.35 134.91,239.38 135.23,239.4 135.54,239.42 135.85,239.45 136.17,239.48 136.48,239.5 136.79,239.53 137.11,239.56 137.42,239.59 137.73,239.63 138.05,239.66 138.36,239.7 138.67,239.73 138.99,239.77 139.3,239.81 139.61,239.84 139.93,239.88 140.24,239.92 140.55,239.96 140.87,240.01 141.18,240.05 141.49,240.09 141.81,240.14 142.12,240.18 142.43,240.23 142.75,240.28 143.06,240.33 143.37,240.38 143.69,240.45 144,240.52 144.31,240.6 144.63,240.68 144.94,240.77 145.25,240.87 145.57,240.97 145.88,241.08 146.19,241.2 146.51,241.33 146.82,241.46 147.13,241.6 147.45,241.74 147.76,241.89 148.07,242.05 148.39,242.21 148.7,242.38 149.01,242.56 149.33,242.74 149.64,242.93 149.95,243.13 150.27,243.33 150.58,243.57 150.89,243.85 151.21,244.16 151.52,244.52 151.83,244.91 152.15,245.33 152.46,245.78 152.77,246.25 153.09,246.74 153.4,247.26 153.71,247.79 154.03,248.33 154.34,248.89 154.65,249.45 154.97,250.01 155.28,250.58 155.59,251.14 155.91,251.72 156.22,252.34 156.53,252.98 156.85,253.64 157.16,254.34 157.47,255.05 157.79,255.78 158.1,256.53 158.41,257.29 158.73,258.07 159.04,258.85 159.36,259.64 159.67,260.43 159.98,261.22 160.3,262.01 160.61,262.81 160.92,263.65 161.24,264.5 161.55,265.37 161.86,266.25 162.18,267.14 162.49,268.03 162.8,268.92 163.12,269.8 163.43,270.67 163.74,271.53 164.06,272.36 164.37,273.18 164.68,274 165,274.84 165.31,275.68 165.62,276.51 165.94,277.34 166.25,278.15 166.56,278.94 166.88,279.69 167.19,280.42 167.5,281.09 167.82,281.72 168.13,282.3 168.44,282.86 168.76,283.45 169.07,284.04 169.38,284.61 169.7,285.15 170.01,285.62 170.32,286.02 170.64,286.32 170.95,286.5 171.26,286.54 171.58,286.48 171.89,286.35 172.2,286.14 172.52,285.86 172.83,285.54 173.14,285.16 173.46,284.75 173.77,284.3 174.08,283.83 174.4,283.34 174.71,282.84 175.02,282.34 175.34,281.81 175.65,281.18 175.96,280.46 176.28,279.66 176.59,278.8 176.9,277.88 177.22,276.92 177.53,275.93 177.84,274.93 178.16,273.92 178.47,272.92 178.78,271.94 179.1,270.98 179.41,270 179.72,268.99 180.04,267.95 180.35,266.89 180.66,265.83 180.98,264.76 181.29,263.69 181.6,262.64 181.92,261.61 182.23,260.6 182.54,259.63 182.86,258.71 183.17,257.79 183.49,256.87 183.8,255.94 184.11,255.03 184.43,254.13 184.74,253.25 185.05,252.4 185.37,251.59 185.68,250.82 185.99,250.1 186.31,249.43 186.62,248.83 186.93,248.29 187.25,247.76 187.56,247.23 187.87,246.71 188.19,246.21 188.5,245.72 188.81,245.25 189.13,244.8 189.44,244.36 189.75,243.95 190.07,243.57 190.38,243.21 190.69,242.88 191.01,242.59 191.32,242.32 191.63,242.1 191.95,241.91 192.26,241.75 192.57,241.62 192.89,241.49 193.2,241.36 193.51,241.24 193.83,241.12 194.14,241.01 194.45,240.9 194.77,240.8 195.08,240.7 195.39,240.6 195.71,240.51 196.02,240.42 196.33,240.34 196.65,240.26 196.96,240.19 197.27,240.12 197.59,240.06 197.9,239.99 198.21,239.94 198.53,239.88 198.84,239.84 199.15,239.79 199.47,239.75 199.78,239.71 200.09,239.68 200.41,239.65 200.72,239.63 201.03,239.61 201.35,239.59 201.66,239.57 201.97,239.55 202.29,239.53 202.6,239.51 202.91,239.49 203.23,239.47 203.54,239.45 203.85,239.43 204.17,239.42 204.48,239.4 204.79,239.38 205.11,239.37 205.42,239.35 205.73,239.34 206.05,239.33 206.36,239.31 206.67,239.3 206.99,239.29 207.3,239.28 207.61,239.27 207.93,239.26 208.24,239.25 208.56,239.24 208.87,239.23 209.18,239.23 209.5,239.22 209.81,239.21 210.12,239.21 210.44,239.21 210.75,239.2 211.06,239.2 211.38,239.2 211.69,239.2 212,239.2 212.32,239.2 212.63,239.2 212.94,239.2 213.26,239.2 213.57,239.2 213.88,239.2 214.2,239.2 214.51,239.2 214.82,239.2 215.14,239.2 215.45,239.2 215.76,239.2 216.08,239.2 216.39,239.2 216.7,239.2 217.02,239.2 217.33,239.2 217.64,239.2 217.96,239.2 218.27,239.2 218.58,239.2 218.9,239.2 219.21,239.2 219.52,239.2 219.84,239.2 220.15,239.2 220.46,239.2 220.78,239.2 221.09,239.2 221.4,239.2 221.72,239.2 222.03,239.2 222.34,239.2 222.66,239.2 222.97,239.2 223.28,239.2 223.6,239.2 223.91,239.2 224.22,239.2 224.54,239.2 224.85,239.2 225.16,239.2 225.48,239.2 225.79,239.2 226.1,239.2 226.42,239.2 226.73,239.2 227.04,239.2 227.36,239.2 227.67,239.2 227.98,239.2 228.3,239.2 228.61,239.2 228.92,239.2 229.24,239.2 229.55,239.2 229.86,239.2 230.18,239.2 230.49,239.2 230.8,239.2 231.12,239.2 231.43,239.2 231.74,239.2 232.06,239.2 232.37,239.2 232.68,239.2 233,239.2 233.31,239.2 233.62,239.2 233.94,239.2 234.25,239.2 234.57,239.2 234.88,239.2 235.19,239.2 235.51,239.2 235.82,239.2 236.13,239.2 236.45,239.2 236.76,239.2 237.07,239.2 237.39,239.2 237.7,239.2 238.01,239.2 238.33,239.2 238.64,239.2 238.95,239.2 239.27,239.2 239.58,239.2 239.89,239.2 240.21,239.2 240.52,239.2 240.83,239.2 241.15,239.2 241.46,239.2 241.77,239.2 242.09,239.2 242.4,239.2 242.71,239.2 243.03,239.2 243.34,239.2 243.65,239.2 243.97,239.2 244.28,239.2 244.59,239.2 244.91,239.2 245.22,239.2 245.53,239.2 245.85,239.2 246.16,239.2 246.47,239.2 246.79,239.2 247.1,239.2 247.41,239.2 247.73,239.2 248.04,239.2 248.35,239.2 248.67,239.2 248.98,239.2 249.29,239.2 249.61,239.2 249.92,239.2 250.23,239.2 250.55,239.2 250.86,239.2 251.17,239.2 251.49,239.2 251.8,239.2 252.11,239.2 252.43,239.2 252.74,239.2 253.05,239.2 253.37,239.2 253.68,239.2 253.99,239.2 254.31,239.2 254.62,239.2 254.93,239.2 255.25,239.2 255.56,239.2 255.87,239.2 256.19,239.2 256.5,239.2 256.81,239.2 257.13,239.2 257.44,239.2 257.75,239.2 258.07,239.2 258.38,239.2 258.69,239.2 259.01,239.2 259.32,239.2 259.64,239.2 259.95,239.2 260.26,239.2 260.58,239.2 260.89,239.2 261.2,239.2 261.52,239.2 261.83,239.2 262.14,239.2 262.46,239.2 262.77,239.2 263.08,239.2 263.4,239.2 263.71,239.2 264.02,239.2 264.34,239.2 264.65,239.2 264.96,239.2 265.28,239.2 265.59,239.2 265.9,239.2 266.22,239.2 266.53,239.2 266.84,239.2 267.16,239.2 267.47,239.2 267.78,239.2 268.1,239.2 268.41,239.2 268.72,239.2 269.04,239.2 269.35,239.2 269.66,239.2 269.98,239.2 270.29,239.2 270.6,239.2 270.92,239.2 271.23,239.2 271.54,239.2 271.86,239.2 272.17,239.2 272.48,239.2 272.8,239.2 273.11,239.2 273.42,239.2 273.74,239.2 274.05,239.2 274.36,239.2 274.68,239.2 274.99,239.2 275.3,239.2 275.62,239.2 275.93,239.2 276.24,239.2 276.56,239.2 276.87,239.2 277.18,239.2 277.5,239.2 277.81,239.2 278.12,239.2 278.44,239.2 278.75,239.2 279.06,239.2 279.38,239.2 279.69,239.2 280,239.2 280.32,239.2 280.63,239.2 280.94,239.2 281.26,239.2 281.57,239.2 281.88,239.2 282.2,239.2 282.51,239.2 282.82,239.2 283.14,239.2 283.45,239.2 283.76,239.2 284.08,239.2 284.39,239.2 284.71,239.2 285.02,239.2 285.33,239.2 285.65,239.2 285.96,239.2 286.27,239.2 286.59,239.2 286.9,239.2 287.21,239.2 287.53,239.2 287.84,239.2 288.15,239.2 288.47,239.2 288.78,239.2 289.09,239.2 289.41,239.2 289.72,239.2 290.03,239.2 290.35,239.2 290.66,239.2 290.97,239.2 291.29,239.2 291.6,239.2 291.91,239.2 292.23,239.2 292.54,239.2 292.85,239.2 293.17,239.2 293.48,239.2 293.79,239.2 294.11,239.2 294.42,239.2 294.73,239.2 295.05,239.2 295.36,239.2 295.67,239.2 295.99,239.2 296.3,239.2" stroke="#dc2329" stroke-width="2.4" fill="none" stroke-linejoin="round"/><rect x="45.6" y="185.4" width="250.7" height="161.4" fill="none" stroke="#2a2a2a" stroke-width="1.4"/><path d="M61.27 346.8v-3.7M61.27 185.4v3.7M76.94 346.8v-3.7M76.94 185.4v3.7M92.61 346.8v-3.7M92.61 185.4v3.7M108.28 346.8v-7.5M108.28 185.4v7.5M123.94 346.8v-3.7M123.94 185.4v3.7M139.61 346.8v-3.7M139.61 185.4v3.7M155.28 346.8v-3.7M155.28 185.4v3.7M170.95 346.8v-7.5M170.95 185.4v7.5M186.62 346.8v-3.7M186.62 185.4v3.7M202.29 346.8v-3.7M202.29 185.4v3.7M217.96 346.8v-3.7M217.96 185.4v3.7M233.62 346.8v-7.5M233.62 185.4v7.5M249.29 346.8v-3.7M249.29 185.4v3.7M264.96 346.8v-3.7M264.96 185.4v3.7M280.63 346.8v-3.7M280.63 185.4v3.7M45.6 293h2.6M296.3 293h-2.6M45.6 239.2h2.6M296.3 239.2h-2.6" stroke="#2a2a2a" stroke-width="1.1" fill="none"/><text x="23.95" y="192.9" style="font-family:'Liberation Serif',serif;font-size:12.5px;letter-spacing:0.68px;stroke:#000;stroke-width:0.35px">1.5</text><text x="24.1" y="244" style="font-family:'Liberation Serif',serif;font-size:12.5px;letter-spacing:0.85px;stroke:#000;stroke-width:0.35px">1.0</text><text x="23.57" y="297.8" style="font-family:'Liberation Serif',serif;font-size:12.5px;letter-spacing:0.87px;stroke:#000;stroke-width:0.35px">0.5</text><text x="23.57" y="347.1" style="font-family:'Liberation Serif',serif;font-size:12.5px;letter-spacing:0.99px;stroke:#000;stroke-width:0.35px">0.0</text><text x="30.63" y="363.9" style="font-family:'Liberation Serif',serif;font-size:12.5px;letter-spacing:1.47px;stroke:#000;stroke-width:0.35px">−400</text><text x="93.45" y="363.9" style="font-family:'Liberation Serif',serif;font-size:12.5px;letter-spacing:1.37px;stroke:#000;stroke-width:0.35px">−200</text><text x="167.79" y="363.9" textLength="6.72" lengthAdjust="spacingAndGlyphs" style="font-family:'Liberation Serif',serif;font-size:12.5px;stroke:#000;stroke-width:0.35px">0</text><text x="223.08" y="363.9" style="font-family:'Liberation Serif',serif;font-size:12.5px;letter-spacing:1.34px;stroke:#000;stroke-width:0.35px">200</text><text x="285.06" y="363.9" style="font-family:'Liberation Serif',serif;font-size:12.5px;letter-spacing:1.34px;stroke:#000;stroke-width:0.35px">400</text><text x="60.81" y="326.1" style="font-family:'Liberation Serif',serif;font-size:16.3px;letter-spacing:0.91px;stroke:#000;stroke-width:0.3px">Si</text><text x="83.92" y="326.1" textLength="4.45" lengthAdjust="spacingAndGlyphs" style="font-family:'Liberation Serif',serif;font-size:16.3px;stroke:#000;stroke-width:0.3px">I</text><text x="89.27" y="326.1" textLength="8.67" lengthAdjust="spacingAndGlyphs" style="font-family:'Liberation Serif',serif;font-size:16.3px;stroke:#000;stroke-width:0.3px">V</text><text x="107.37" y="326.1" style="font-family:'Liberation Serif',serif;font-size:16.3px;letter-spacing:1.62px;stroke:#000;stroke-width:0.3px">1403</text><clipPath id="c3"><rect x="338.6" y="185.4" width="250.3" height="161.4"/></clipPath><path d="M463.75 346.8V185.4" stroke="#7e7e7e" stroke-width="1.2" stroke-dasharray="6.2 3.4 1.3 3.35" stroke-dashoffset="-0.5" fill="none"/><path clip-path="url(#c3)" d="M339.18 234.21 340.33 241.99 341.48 231.54 342.62 240.44 343.78 228.77 344.93 235.77 346.08 252.88 347.23 245.1 348.38 237.33 349.53 243.55 350.68 238.88 351.82 238.88 352.98 219.44 354.12 243.55 355.28 231.1 356.43 245.1 357.58 237.33 358.73 246.66 359.88 238.88 361.03 224.88 362.18 248.21 363.33 227.22 364.48 241.99 365.62 255.21 366.78 231.1 367.93 227.99 369.08 246.66 370.23 233.44 371.38 248.21 372.53 234.99 373.68 246.66 374.82 248.21 375.98 234.21 377.12 235.77 378.28 246.66 379.43 248.21 380.58 237.33 381.73 241.8 382.88 238.88 384.03 249.77 385.18 257.54 386.33 238.88 387.48 240.44 388.62 251.32 389.78 251.32 390.93 238.88 392.08 226.44 393.23 240.44 394.38 235.77 395.53 243.55 396.68 234.99 397.83 245.1 398.98 251.32 400.12 237.33 401.28 235.77 402.43 248.21 403.58 227.22 404.73 248.21 405.88 243.55 407.03 231.88 408.18 239.76 409.33 235.77 410.48 245.1 411.62 241.99 412.78 232.66 413.93 238.88 415.07 226.44 416.23 231.1 417.38 241.99 418.53 237.33 419.68 224.88 420.82 227.99 421.98 240.44 423.12 232.67 424.27 233.58 425.43 254.45 426.58 243.56 427.73 236.3 428.88 245.37 430.02 231.76 431.18 243.56 432.32 236.3 433.48 238.11 434.62 252.63 435.77 217.24 436.93 236.3 438.08 221.78 439.23 236.3 440.38 219.96 441.52 241.74 442.68 236.3 443.82 247.19 444.98 238.11 446.12 249 447.27 236.3 448.43 250.82 449.57 256.26 450.73 263.52 451.88 254.45 453.02 268.97 454.18 276.23 455.32 268.97 456.48 285.3 457.62 276.23 458.77 294.37 459.93 298.91 461.07 288.93 462.23 290.74 463.38 299.82 464.52 287.11 465.68 288.93 466.83 283.48 467.98 272.6 469.12 279.85 470.27 268.97 471.43 267.15 472.58 252.63 473.73 261.71 474.88 245.37 476.02 236.3 477.18 249 478.33 238.11 479.48 247.19 480.62 249 481.77 245.37 482.93 236.3 484.07 250.82 485.23 243.56 486.38 232.67 487.52 239.93 488.68 238.11 489.83 229.04 490.98 236.3 492.12 230.85 493.27 239.93 494.43 238.11 495.57 223.59 496.73 221.78 497.88 239.93 499.02 230.85 500.18 245.37 501.32 226.32 502.48 239.93 503.62 234.02 504.77 230.85 505.92 239.93 507.08 234.54 508.23 244.91 509.38 232.82 510.52 241.45 511.67 231.09 512.83 243.18 513.98 238 515.12 225.04 516.27 243.18 517.42 234.54 518.58 231.09 519.73 244.91 520.88 225.91 522.03 239.72 523.17 253.54 524.33 234.54 525.48 234.54 526.62 248.36 527.77 229.36 528.92 243.18 530.08 230.22 531.23 243.18 532.38 241.45 533.52 220.73 534.67 246.63 535.83 241.45 536.98 248.36 538.12 226.77 539.27 215.54 540.42 249.22 541.58 227.63 542.73 221.59 543.88 244.91 545.02 226.77 546.17 248.36 547.33 243.18 548.48 226.77 549.62 236.27 550.77 250.09 551.92 236.27 553.08 234.54 554.23 239.72 555.38 251.81 556.52 251.81 557.67 253.54 558.83 231.09 559.98 243.18 561.12 251.81 562.27 243.18 563.42 256.99 564.58 246.63 565.73 258.72 566.88 255.27 568.02 250.09 569.17 260.45 570.33 260.45 571.48 263.9 572.62 256.99 573.77 263.9 574.92 265.63 576.08 277.72 577.23 269.08 578.38 269.08 579.52 275.99 580.67 286.36 581.83 282.9 582.98 263.9 584.12 265.63 585.27 265.63 586.42 274.27 587.58 260.45 588.73 269.08 589.88 266.69" stroke="#000" stroke-width="1.25" fill="none" shape-rendering="auto"/><polyline points="338.6,239.2 338.91,239.2 339.23,239.2 339.54,239.2 339.85,239.2 340.16,239.2 340.48,239.2 340.79,239.2 341.1,239.2 341.42,239.2 341.73,239.2 342.04,239.2 342.35,239.2 342.67,239.2 342.98,239.2 343.29,239.2 343.61,239.2 343.92,239.2 344.23,239.2 344.54,239.2 344.86,239.2 345.17,239.2 345.48,239.2 345.8,239.2 346.11,239.2 346.42,239.2 346.73,239.2 347.05,239.2 347.36,239.2 347.67,239.2 347.99,239.2 348.3,239.2 348.61,239.2 348.92,239.2 349.24,239.2 349.55,239.2 349.86,239.2 350.18,239.2 350.49,239.2 350.8,239.2 351.12,239.2 351.43,239.2 351.74,239.2 352.05,239.2 352.37,239.2 352.68,239.2 352.99,239.2 353.31,239.2 353.62,239.2 353.93,239.2 354.24,239.2 354.56,239.2 354.87,239.2 355.18,239.2 355.5,239.2 355.81,239.2 356.12,239.2 356.43,239.2 356.75,239.2 357.06,239.2 357.37,239.2 357.69,239.2 358,239.2 358.31,239.2 358.62,239.2 358.94,239.2 359.25,239.2 359.56,239.2 359.88,239.2 360.19,239.2 360.5,239.2 360.81,239.2 361.13,239.2 361.44,239.2 361.75,239.2 362.07,239.2 362.38,239.2 362.69,239.2 363,239.2 363.32,239.2 363.63,239.2 363.94,239.2 364.26,239.2 364.57,239.2 364.88,239.2 365.19,239.2 365.51,239.2 365.82,239.2 366.13,239.2 366.45,239.2 366.76,239.2 367.07,239.2 367.38,239.2 367.7,239.2 368.01,239.2 368.32,239.2 368.64,239.2 368.95,239.2 369.26,239.2 369.57,239.2 369.89,239.2 370.2,239.2 370.51,239.2 370.83,239.2 371.14,239.2 371.45,239.2 371.76,239.2 372.08,239.2 372.39,239.2 372.7,239.2 373.02,239.2 373.33,239.2 373.64,239.2 373.95,239.2 374.27,239.2 374.58,239.2 374.89,239.2 375.21,239.2 375.52,239.2 375.83,239.2 376.14,239.2 376.46,239.2 376.77,239.2 377.08,239.2 377.4,239.2 377.71,239.2 378.02,239.2 378.34,239.2 378.65,239.2 378.96,239.2 379.27,239.2 379.59,239.2 379.9,239.2 380.21,239.2 380.53,239.2 380.84,239.2 381.15,239.2 381.46,239.2 381.78,239.2 382.09,239.2 382.4,239.2 382.72,239.2 383.03,239.2 383.34,239.2 383.65,239.2 383.97,239.2 384.28,239.2 384.59,239.2 384.91,239.2 385.22,239.2 385.53,239.2 385.84,239.2 386.16,239.2 386.47,239.2 386.78,239.2 387.1,239.2 387.41,239.2 387.72,239.2 388.03,239.2 388.35,239.2 388.66,239.2 388.97,239.2 389.29,239.2 389.6,239.2 389.91,239.2 390.22,239.2 390.54,239.2 390.85,239.2 391.16,239.2 391.48,239.2 391.79,239.2 392.1,239.2 392.41,239.2 392.73,239.2 393.04,239.2 393.35,239.2 393.67,239.2 393.98,239.2 394.29,239.2 394.6,239.2 394.92,239.2 395.23,239.2 395.54,239.2 395.86,239.2 396.17,239.2 396.48,239.2 396.79,239.2 397.11,239.2 397.42,239.2 397.73,239.2 398.05,239.2 398.36,239.2 398.67,239.2 398.98,239.2 399.3,239.2 399.61,239.2 399.92,239.2 400.24,239.2 400.55,239.2 400.86,239.2 401.18,239.2 401.49,239.2 401.8,239.2 402.11,239.2 402.43,239.2 402.74,239.2 403.05,239.2 403.37,239.2 403.68,239.2 403.99,239.2 404.3,239.2 404.62,239.2 404.93,239.2 405.24,239.2 405.56,239.2 405.87,239.2 406.18,239.2 406.49,239.2 406.81,239.2 407.12,239.2 407.43,239.2 407.75,239.2 408.06,239.2 408.37,239.2 408.68,239.2 409,239.2 409.31,239.2 409.62,239.2 409.94,239.2 410.25,239.2 410.56,239.2 410.87,239.2 411.19,239.2 411.5,239.2 411.81,239.2 412.13,239.2 412.44,239.2 412.75,239.2 413.06,239.2 413.38,239.2 413.69,239.2 414,239.2 414.32,239.2 414.63,239.2 414.94,239.2 415.25,239.2 415.57,239.2 415.88,239.2 416.19,239.2 416.51,239.2 416.82,239.2 417.13,239.2 417.44,239.2 417.76,239.2 418.07,239.2 418.38,239.2 418.7,239.2 419.01,239.2 419.32,239.2 419.63,239.2 419.95,239.2 420.26,239.2 420.57,239.2 420.89,239.2 421.2,239.21 421.51,239.21 421.82,239.22 422.14,239.22 422.45,239.23 422.76,239.24 423.08,239.24 423.39,239.25 423.7,239.26 424.01,239.27 424.33,239.28 424.64,239.29 424.95,239.3 425.27,239.32 425.58,239.33 425.89,239.34 426.2,239.36 426.52,239.37 426.83,239.39 427.14,239.4 427.46,239.42 427.77,239.44 428.08,239.45 428.4,239.47 428.71,239.49 429.02,239.5 429.33,239.52 429.65,239.54 429.96,239.57 430.27,239.59 430.59,239.62 430.9,239.65 431.21,239.68 431.52,239.72 431.84,239.76 432.15,239.8 432.46,239.85 432.78,239.9 433.09,239.95 433.4,240 433.71,240.06 434.03,240.12 434.34,240.18 434.65,240.24 434.97,240.31 435.28,240.38 435.59,240.45 435.9,240.52 436.22,240.6 436.53,240.68 436.84,240.78 437.16,240.88 437.47,241 437.78,241.12 438.09,241.26 438.41,241.4 438.72,241.56 439.03,241.73 439.35,241.9 439.66,242.09 439.97,242.28 440.28,242.49 440.6,242.7 440.91,242.92 441.22,243.15 441.54,243.39 441.85,243.64 442.16,243.89 442.47,244.16 442.79,244.43 443.1,244.71 443.41,245.01 443.73,245.34 444.04,245.71 444.35,246.12 444.66,246.57 444.98,247.05 445.29,247.55 445.6,248.09 445.92,248.66 446.23,249.25 446.54,249.86 446.85,250.5 447.17,251.15 447.48,251.83 447.79,252.55 448.11,253.36 448.42,254.24 448.73,255.18 449.04,256.17 449.36,257.2 449.67,258.26 449.98,259.33 450.3,260.4 450.61,261.5 450.92,262.66 451.24,263.87 451.55,265.11 451.86,266.37 452.17,267.64 452.49,268.9 452.8,270.14 453.11,271.34 453.43,272.51 453.74,273.68 454.05,274.84 454.36,276 454.68,277.14 454.99,278.26 455.3,279.37 455.62,280.45 455.93,281.5 456.24,282.53 456.55,283.58 456.87,284.64 457.18,285.68 457.49,286.69 457.81,287.65 458.12,288.54 458.43,289.36 458.74,290.07 459.06,290.73 459.37,291.4 459.68,292.06 460,292.65 460.31,293.14 460.62,293.49 460.93,293.64 461.25,293.58 461.56,293.34 461.87,292.95 462.19,292.43 462.5,291.8 462.81,291.11 463.12,290.36 463.44,289.6 463.75,288.84 464.06,288.06 464.38,287.14 464.69,286.11 465,284.98 465.31,283.8 465.63,282.57 465.94,281.33 466.25,280.11 466.57,278.91 466.88,277.75 467.19,276.56 467.5,275.36 467.82,274.16 468.13,272.94 468.44,271.71 468.76,270.47 469.07,269.24 469.38,268 469.69,266.74 470.01,265.44 470.32,264.1 470.63,262.75 470.95,261.41 471.26,260.09 471.57,258.83 471.88,257.63 472.2,256.51 472.51,255.49 472.82,254.48 473.14,253.5 473.45,252.56 473.76,251.66 474.07,250.81 474.39,250.02 474.7,249.29 475.01,248.63 475.33,248.05 475.64,247.48 475.95,246.93 476.26,246.41 476.58,245.92 476.89,245.45 477.2,245.02 477.52,244.61 477.83,244.24 478.14,243.9 478.46,243.61 478.77,243.35 479.08,243.11 479.39,242.87 479.71,242.64 480.02,242.41 480.33,242.2 480.65,241.98 480.96,241.78 481.27,241.58 481.58,241.4 481.9,241.22 482.21,241.04 482.52,240.88 482.84,240.73 483.15,240.59 483.46,240.46 483.77,240.33 484.09,240.22 484.4,240.13 484.71,240.04 485.03,239.96 485.34,239.9 485.65,239.85 485.96,239.81 486.28,239.78 486.59,239.74 486.9,239.7 487.22,239.67 487.53,239.63 487.84,239.6 488.15,239.57 488.47,239.54 488.78,239.51 489.09,239.48 489.41,239.45 489.72,239.43 490.03,239.4 490.34,239.38 490.66,239.36 490.97,239.33 491.28,239.32 491.6,239.3 491.91,239.28 492.22,239.27 492.53,239.25 492.85,239.24 493.16,239.23 493.47,239.22 493.79,239.21 494.1,239.21 494.41,239.2 494.72,239.2 495.04,239.2 495.35,239.2 495.66,239.2 495.98,239.2 496.29,239.2 496.6,239.2 496.91,239.2 497.23,239.2 497.54,239.2 497.85,239.2 498.17,239.2 498.48,239.2 498.79,239.2 499.1,239.2 499.42,239.2 499.73,239.2 500.04,239.2 500.36,239.2 500.67,239.2 500.98,239.2 501.29,239.2 501.61,239.2 501.92,239.2 502.23,239.2 502.55,239.2 502.86,239.2 503.17,239.2 503.49,239.2 503.8,239.2 504.11,239.2 504.42,239.2 504.74,239.2 505.05,239.2 505.36,239.2 505.68,239.2 505.99,239.2 506.3,239.2 506.61,239.2 506.93,239.2 507.24,239.2 507.55,239.2 507.87,239.2 508.18,239.2 508.49,239.2 508.8,239.2 509.12,239.2 509.43,239.2 509.74,239.2 510.06,239.2 510.37,239.2 510.68,239.2 510.99,239.2 511.31,239.2 511.62,239.2 511.93,239.2 512.25,239.2 512.56,239.2 512.87,239.2 513.18,239.2 513.5,239.2 513.81,239.2 514.12,239.2 514.44,239.2 514.75,239.2 515.06,239.2 515.37,239.2 515.69,239.2 516,239.2 516.31,239.2 516.63,239.2 516.94,239.2 517.25,239.2 517.56,239.2 517.88,239.2 518.19,239.2 518.5,239.2 518.82,239.2 519.13,239.2 519.44,239.2 519.75,239.2 520.07,239.2 520.38,239.2 520.69,239.2 521.01,239.2 521.32,239.2 521.63,239.2 521.94,239.2 522.26,239.2 522.57,239.2 522.88,239.2 523.2,239.2 523.51,239.2 523.82,239.2 524.13,239.2 524.45,239.2 524.76,239.2 525.07,239.2 525.39,239.2 525.7,239.2 526.01,239.2 526.33,239.2 526.64,239.2 526.95,239.2 527.26,239.2 527.58,239.2 527.89,239.2 528.2,239.2 528.52,239.2 528.83,239.2 529.14,239.2 529.45,239.2 529.77,239.2 530.08,239.2 530.39,239.2 530.71,239.2 531.02,239.2 531.33,239.2 531.64,239.2 531.96,239.2 532.27,239.2 532.58,239.2 532.9,239.2 533.21,239.2 533.52,239.2 533.83,239.2 534.15,239.2 534.46,239.2 534.77,239.2 535.09,239.2 535.4,239.2 535.71,239.2 536.02,239.2 536.34,239.2 536.65,239.2 536.96,239.2 537.28,239.2 537.59,239.2 537.9,239.2 538.21,239.2 538.53,239.2 538.84,239.2 539.15,239.2 539.47,239.2 539.78,239.2 540.09,239.2 540.4,239.2 540.72,239.2 541.03,239.2 541.34,239.2 541.66,239.2 541.97,239.2 542.28,239.2 542.59,239.2 542.91,239.2 543.22,239.2 543.53,239.2 543.85,239.2 544.16,239.2 544.47,239.2 544.78,239.2 545.1,239.2 545.41,239.2 545.72,239.2 546.04,239.2 546.35,239.2 546.66,239.2 546.97,239.2 547.29,239.2 547.6,239.2 547.91,239.2 548.23,239.2 548.54,239.2 548.85,239.2 549.16,239.2 549.48,239.2 549.79,239.2 550.1,239.2 550.42,239.2 550.73,239.2 551.04,239.2 551.36,239.2 551.67,239.2 551.98,239.2 552.29,239.2 552.61,239.2 552.92,239.2 553.23,239.2 553.55,239.2 553.86,239.2 554.17,239.2 554.48,239.2 554.8,239.2 555.11,239.2 555.42,239.2 555.74,239.2 556.05,239.2 556.36,239.2 556.67,239.2 556.99,239.2 557.3,239.2 557.61,239.2 557.93,239.2 558.24,239.2 558.55,239.2 558.86,239.2 559.18,239.2 559.49,239.2 559.8,239.2 560.12,239.2 560.43,239.2 560.74,239.2 561.05,239.2 561.37,239.2 561.68,239.2 561.99,239.2 562.31,239.2 562.62,239.2 562.93,239.2 563.24,239.2 563.56,239.2 563.87,239.2 564.18,239.2 564.5,239.2 564.81,239.2 565.12,239.2 565.43,239.2 565.75,239.2 566.06,239.2 566.37,239.2 566.69,239.2 567,239.2 567.31,239.2 567.62,239.2 567.94,239.2 568.25,239.2 568.56,239.2 568.88,239.2 569.19,239.2 569.5,239.2 569.81,239.2 570.13,239.2 570.44,239.2 570.75,239.2 571.07,239.2 571.38,239.2 571.69,239.2 572,239.2 572.32,239.2 572.63,239.2 572.94,239.2 573.26,239.2 573.57,239.2 573.88,239.2 574.19,239.2 574.51,239.2 574.82,239.2 575.13,239.2 575.45,239.2 575.76,239.2 576.07,239.2 576.38,239.2 576.7,239.2 577.01,239.2 577.32,239.2 577.64,239.2 577.95,239.2 578.26,239.2 578.58,239.2 578.89,239.2 579.2,239.2 579.51,239.2 579.83,239.2 580.14,239.2 580.45,239.2 580.77,239.2 581.08,239.2 581.39,239.2 581.7,239.2 582.02,239.2 582.33,239.2 582.64,239.2 582.96,239.2 583.27,239.2 583.58,239.2 583.89,239.2 584.21,239.2 584.52,239.2 584.83,239.2 585.15,239.2 585.46,239.2 585.77,239.2 586.08,239.2 586.4,239.2 586.71,239.2 587.02,239.2 587.34,239.2 587.65,239.2 587.96,239.2 588.27,239.2 588.59,239.2 588.9,239.2" stroke="#dc2329" stroke-width="2.4" fill="none" stroke-linejoin="round"/><rect x="338.6" y="185.4" width="250.3" height="161.4" fill="none" stroke="#2a2a2a" stroke-width="1.4"/><path d="M354.24 346.8v-3.7M354.24 185.4v3.7M369.89 346.8v-3.7M369.89 185.4v3.7M385.53 346.8v-3.7M385.53 185.4v3.7M401.18 346.8v-7.5M401.18 185.4v7.5M416.82 346.8v-3.7M416.82 185.4v3.7M432.46 346.8v-3.7M432.46 185.4v3.7M448.11 346.8v-3.7M448.11 185.4v3.7M463.75 346.8v-7.5M463.75 185.4v7.5M479.39 346.8v-3.7M479.39 185.4v3.7M495.04 346.8v-3.7M495.04 185.4v3.7M510.68 346.8v-3.7M510.68 185.4v3.7M526.33 346.8v-7.5M526.33 185.4v7.5M541.97 346.8v-3.7M541.97 185.4v3.7M557.61 346.8v-3.7M557.61 185.4v3.7M573.26 346.8v-3.7M573.26 185.4v3.7M338.6 293h2.6M588.9 293h-2.6M338.6 239.2h2.6M588.9 239.2h-2.6" stroke="#2a2a2a" stroke-width="1.1" fill="none"/><text x="316.95" y="192.9" style="font-family:'Liberation Serif',serif;font-size:12.5px;letter-spacing:0.68px;stroke:#000;stroke-width:0.35px">1.5</text><text x="317.1" y="244" style="font-family:'Liberation Serif',serif;font-size:12.5px;letter-spacing:0.85px;stroke:#000;stroke-width:0.35px">1.0</text><text x="316.57" y="297.8" style="font-family:'Liberation Serif',serif;font-size:12.5px;letter-spacing:0.87px;stroke:#000;stroke-width:0.35px">0.5</text><text x="316.57" y="347.1" style="font-family:'Liberation Serif',serif;font-size:12.5px;letter-spacing:0.99px;stroke:#000;stroke-width:0.35px">0.0</text><text x="323.63" y="363.9" style="font-family:'Liberation Serif',serif;font-size:12.5px;letter-spacing:1.47px;stroke:#000;stroke-width:0.35px">−400</text><text x="386.35" y="363.9" style="font-family:'Liberation Serif',serif;font-size:12.5px;letter-spacing:1.37px;stroke:#000;stroke-width:0.35px">−200</text><text x="460.59" y="363.9" textLength="6.72" lengthAdjust="spacingAndGlyphs" style="font-family:'Liberation Serif',serif;font-size:12.5px;stroke:#000;stroke-width:0.35px">0</text><text x="515.78" y="363.9" style="font-family:'Liberation Serif',serif;font-size:12.5px;letter-spacing:1.34px;stroke:#000;stroke-width:0.35px">200</text><text x="577.66" y="363.9" style="font-family:'Liberation Serif',serif;font-size:12.5px;letter-spacing:1.34px;stroke:#000;stroke-width:0.35px">400</text><text x="354.02" y="326.1" textLength="9.47" lengthAdjust="spacingAndGlyphs" style="font-family:'Liberation Serif',serif;font-size:16.3px;stroke:#000;stroke-width:0.3px">C</text><text x="371.53" y="326.1" textLength="4.33" lengthAdjust="spacingAndGlyphs" style="font-family:'Liberation Serif',serif;font-size:16.3px;stroke:#000;stroke-width:0.3px">I</text><text x="377.43" y="326.1" textLength="4.33" lengthAdjust="spacingAndGlyphs" style="font-family:'Liberation Serif',serif;font-size:16.3px;stroke:#000;stroke-width:0.3px">I</text><text x="390.37" y="326.1" style="font-family:'Liberation Serif',serif;font-size:16.3px;letter-spacing:1.47px;stroke:#000;stroke-width:0.3px">1036</text><clipPath id="c4"><rect x="45.6" y="369.6" width="250.7" height="161.5"/></clipPath><path d="M170.95 531.1V369.6" stroke="#7e7e7e" stroke-width="1.2" stroke-dasharray="6.2 3.4 1.3 3.35" stroke-dashoffset="-0.8" fill="none"/><path clip-path="url(#c4)" d="M46.18 428.55 47.32 416.1 48.48 408.33 49.62 423.88 50.78 425.44 51.93 416.1 53.07 423.88 54.23 412.99 55.38 406 56.53 420.77 57.67 417.66 58.83 434.77 59.98 426.99 61.12 409.11 62.28 423.88 63.42 428.55 64.58 416.1 65.72 415.33 66.88 422.33 68.03 417.66 69.17 437.88 70.33 409.11 71.47 418.44 72.62 425.44 73.77 424.95 74.93 420.77 76.07 439.43 77.22 418.44 78.38 431.66 79.53 419.21 80.68 431.66 81.82 436.32 82.97 420.77 84.12 409.88 85.27 430.1 86.42 407.55 87.58 408.33 88.72 423.88 89.88 425.44 91.03 412.99 92.17 417.66 93.32 423.88 94.47 422.33 95.62 430.1 96.77 433.21 97.93 419.21 99.08 418.44 100.22 428.55 101.38 420.77 102.52 430.1 103.67 426.99 104.82 414.55 105.97 406.77 107.12 409.88 108.27 423.88 109.43 434.77 110.57 416.1 111.72 425.44 112.88 411.44 114.03 409.88 115.17 423.88 116.32 414.55 117.47 428.55 118.62 410.66 119.78 433.21 120.92 428.55 122.07 408.33 123.22 426.99 124.38 412.99 125.53 412.99 126.67 430.1 127.82 425.44 128.97 408.33 130.12 410.06 131.27 430.11 132.43 422.59 133.57 435.13 134.72 437.63 135.88 425.1 137.02 429.98 138.18 430.11 139.32 415.08 140.47 416.33 141.62 430.11 142.77 420.09 143.92 432.62 145.07 422.59 146.22 435.13 147.37 427.61 148.53 440.14 149.67 435.34 150.82 445.15 151.97 432.62 153.12 450.16 154.27 440.14 155.42 463.48 156.57 466.39 157.72 480.62 158.88 487.04 160.02 496.64 161.17 496.94 162.32 502.54 163.47 511.14 164.62 511.46 165.77 516.09 166.93 512.82 168.07 519.09 169.22 514.07 170.37 520.34 171.52 510.31 172.67 517.83 173.82 513.33 174.97 508.94 176.12 502.42 177.28 494.84 178.42 482.24 179.57 475.08 180.72 471.23 181.87 464.55 183.02 456.1 184.17 448.99 185.32 442.64 186.47 452.67 187.62 445.15 188.77 435.13 189.92 435.13 191.07 426.35 192.22 425.73 193.37 432.62 194.52 421.34 195.67 428.86 196.82 420.09 197.97 430.11 199.12 415.08 200.27 427.61 201.42 415.08 202.57 415.08 203.72 430.11 204.87 417.58 206.02 437.63 207.17 428.68 208.32 435.13 209.47 417.58 210.62 415.08 211.77 437.63 212.92 425.28 214.07 437.88 215.22 409.88 216.37 440.99 217.52 422.33 218.67 415.33 219.82 428.55 220.97 423.37 222.12 419.21 223.28 430.1 224.42 428.55 225.57 420.77 226.72 416.1 227.87 431.66 229.02 426.99 230.17 411.44 231.32 417.66 232.47 414.55 233.62 423.88 234.78 428.55 235.92 405.22 237.07 423.88 238.22 425.44 239.38 406.77 240.52 414.55 241.67 430.1 242.82 423.88 243.97 417.66 245.12 426.99 246.27 416.1 247.42 425.44 248.57 418.44 249.72 419.21 250.88 425.44 252.03 426.99 253.17 416.1 254.32 407.55 255.47 408.33 256.62 423.88 257.77 420.77 258.92 438.65 260.07 419.99 261.22 425.44 262.38 417.66 263.53 426.99 264.67 417.66 265.82 423.88 266.97 425.44 268.12 415.33 269.27 430.1 270.42 430.1 271.57 413.77 272.72 415.33 273.88 426.99 275.02 416.1 276.18 430.1 277.32 416.1 278.47 425.44 279.62 433.21 280.77 416.1 281.92 437.88 283.07 420.77 284.23 431.66 285.38 447.21 286.52 433.21 287.67 422.33 288.82 423.88 289.97 434.77 291.12 423.88 292.28 433.21 293.42 436.32 294.57 425.44 295.72 440.99 296.88 436.27 298.02 430.89" stroke="#000" stroke-width="1.25" fill="none" shape-rendering="auto"/><polyline points="45.6,423.43 45.91,423.43 46.23,423.43 46.54,423.43 46.85,423.43 47.17,423.43 47.48,423.43 47.79,423.43 48.11,423.43 48.42,423.43 48.73,423.43 49.05,423.43 49.36,423.43 49.67,423.43 49.99,423.43 50.3,423.43 50.61,423.43 50.93,423.43 51.24,423.43 51.55,423.43 51.87,423.43 52.18,423.43 52.49,423.43 52.81,423.43 53.12,423.43 53.43,423.43 53.75,423.43 54.06,423.43 54.37,423.43 54.69,423.43 55,423.43 55.31,423.43 55.63,423.43 55.94,423.43 56.25,423.43 56.57,423.43 56.88,423.43 57.19,423.43 57.51,423.43 57.82,423.43 58.14,423.43 58.45,423.43 58.76,423.43 59.08,423.43 59.39,423.43 59.7,423.43 60.02,423.43 60.33,423.43 60.64,423.43 60.96,423.43 61.27,423.43 61.58,423.43 61.9,423.43 62.21,423.43 62.52,423.43 62.84,423.43 63.15,423.43 63.46,423.43 63.78,423.43 64.09,423.43 64.4,423.43 64.72,423.43 65.03,423.43 65.34,423.43 65.66,423.43 65.97,423.43 66.28,423.43 66.6,423.43 66.91,423.43 67.22,423.43 67.54,423.43 67.85,423.43 68.16,423.43 68.48,423.43 68.79,423.43 69.1,423.43 69.42,423.43 69.73,423.43 70.04,423.43 70.36,423.43 70.67,423.43 70.98,423.43 71.3,423.43 71.61,423.43 71.92,423.43 72.24,423.43 72.55,423.43 72.86,423.43 73.18,423.43 73.49,423.43 73.8,423.43 74.12,423.43 74.43,423.43 74.74,423.43 75.06,423.43 75.37,423.43 75.68,423.43 76,423.43 76.31,423.43 76.62,423.43 76.94,423.43 77.25,423.43 77.56,423.43 77.88,423.43 78.19,423.43 78.5,423.43 78.82,423.43 79.13,423.43 79.44,423.43 79.76,423.43 80.07,423.43 80.38,423.43 80.7,423.43 81.01,423.43 81.32,423.43 81.64,423.43 81.95,423.43 82.26,423.43 82.58,423.43 82.89,423.43 83.21,423.43 83.52,423.43 83.83,423.43 84.15,423.43 84.46,423.43 84.77,423.43 85.09,423.43 85.4,423.43 85.71,423.43 86.03,423.43 86.34,423.43 86.65,423.43 86.97,423.43 87.28,423.43 87.59,423.43 87.91,423.43 88.22,423.43 88.53,423.43 88.85,423.43 89.16,423.43 89.47,423.43 89.79,423.43 90.1,423.43 90.41,423.43 90.73,423.43 91.04,423.43 91.35,423.43 91.67,423.43 91.98,423.43 92.29,423.43 92.61,423.43 92.92,423.43 93.23,423.43 93.55,423.43 93.86,423.43 94.17,423.43 94.49,423.43 94.8,423.43 95.11,423.43 95.43,423.43 95.74,423.43 96.05,423.43 96.37,423.43 96.68,423.43 96.99,423.43 97.31,423.43 97.62,423.43 97.93,423.43 98.25,423.43 98.56,423.43 98.87,423.43 99.19,423.43 99.5,423.43 99.81,423.43 100.13,423.43 100.44,423.43 100.75,423.43 101.07,423.43 101.38,423.43 101.69,423.43 102.01,423.43 102.32,423.43 102.63,423.43 102.95,423.43 103.26,423.43 103.57,423.43 103.89,423.43 104.2,423.43 104.51,423.43 104.83,423.43 105.14,423.43 105.45,423.43 105.77,423.43 106.08,423.43 106.39,423.43 106.71,423.43 107.02,423.43 107.33,423.43 107.65,423.43 107.96,423.43 108.28,423.43 108.59,423.43 108.9,423.43 109.22,423.43 109.53,423.43 109.84,423.43 110.16,423.43 110.47,423.43 110.78,423.43 111.1,423.43 111.41,423.43 111.72,423.43 112.04,423.43 112.35,423.43 112.66,423.43 112.98,423.43 113.29,423.43 113.6,423.43 113.92,423.43 114.23,423.43 114.54,423.43 114.86,423.43 115.17,423.43 115.48,423.43 115.8,423.43 116.11,423.43 116.42,423.43 116.74,423.43 117.05,423.43 117.36,423.43 117.68,423.43 117.99,423.43 118.3,423.43 118.62,423.43 118.93,423.43 119.24,423.43 119.56,423.43 119.87,423.43 120.18,423.43 120.5,423.43 120.81,423.43 121.12,423.43 121.44,423.43 121.75,423.43 122.06,423.43 122.38,423.43 122.69,423.43 123,423.43 123.32,423.43 123.63,423.43 123.94,423.43 124.26,423.43 124.57,423.44 124.88,423.44 125.2,423.44 125.51,423.44 125.82,423.45 126.14,423.45 126.45,423.46 126.76,423.47 127.08,423.47 127.39,423.48 127.7,423.49 128.02,423.5 128.33,423.51 128.64,423.52 128.96,423.53 129.27,423.55 129.58,423.56 129.9,423.57 130.21,423.59 130.52,423.6 130.84,423.62 131.15,423.63 131.46,423.65 131.78,423.66 132.09,423.68 132.4,423.7 132.72,423.72 133.03,423.74 133.34,423.76 133.66,423.78 133.97,423.81 134.29,423.84 134.6,423.89 134.91,423.93 135.23,423.99 135.54,424.05 135.85,424.11 136.17,424.18 136.48,424.25 136.79,424.33 137.11,424.41 137.42,424.5 137.73,424.59 138.05,424.69 138.36,424.78 138.67,424.88 138.99,424.99 139.3,425.09 139.61,425.2 139.93,425.31 140.24,425.42 140.55,425.54 140.87,425.66 141.18,425.79 141.49,425.92 141.81,426.07 142.12,426.22 142.43,426.38 142.75,426.55 143.06,426.73 143.37,426.92 143.69,427.13 144,427.34 144.31,427.56 144.63,427.79 144.94,428.04 145.25,428.3 145.57,428.57 145.88,428.85 146.19,429.14 146.51,429.45 146.82,429.78 147.13,430.11 147.45,430.47 147.76,430.84 148.07,431.28 148.39,431.8 148.7,432.38 149.01,433.03 149.33,433.74 149.64,434.51 149.95,435.33 150.27,436.2 150.58,437.12 150.89,438.09 151.21,439.09 151.52,440.13 151.83,441.2 152.15,442.39 152.46,443.74 152.77,445.23 153.09,446.84 153.4,448.56 153.71,450.36 154.03,452.24 154.34,454.16 154.65,456.1 154.97,458.07 155.28,460.16 155.59,462.4 155.91,464.76 156.22,467.18 156.53,469.63 156.85,472.07 157.16,474.46 157.47,476.75 157.79,479.04 158.1,481.36 158.41,483.68 158.73,485.97 159.04,488.21 159.36,490.37 159.67,492.41 159.98,494.32 160.3,496.08 160.61,497.82 160.92,499.53 161.24,501.18 161.55,502.78 161.86,504.29 162.18,505.7 162.49,507 162.8,508.16 163.12,509.18 163.43,510.08 163.74,510.98 164.06,511.86 164.37,512.74 164.68,513.59 165,514.41 165.31,515.19 165.62,515.93 165.94,516.62 166.25,517.25 166.56,517.81 166.88,518.3 167.19,518.71 167.5,519.02 167.82,519.24 168.13,519.35 168.44,519.36 168.76,519.31 169.07,519.2 169.38,519.06 169.7,518.87 170.01,518.63 170.32,518.36 170.64,518.06 170.95,517.72 171.26,517.36 171.58,516.96 171.89,516.55 172.2,516.11 172.52,515.66 172.83,515.06 173.14,514.24 173.46,513.23 173.77,512.06 174.08,510.74 174.4,509.32 174.71,507.8 175.02,506.22 175.34,504.59 175.65,502.96 175.96,501.33 176.28,499.65 176.59,497.8 176.9,495.81 177.22,493.72 177.53,491.54 177.84,489.32 178.16,487.07 178.47,484.83 178.78,482.63 179.1,480.5 179.41,478.37 179.72,476.21 180.04,474.02 180.35,471.82 180.66,469.63 180.98,467.48 181.29,465.37 181.6,463.33 181.92,461.38 182.23,459.54 182.54,457.74 182.86,455.97 183.17,454.22 183.49,452.5 183.8,450.84 184.11,449.24 184.43,447.72 184.74,446.28 185.05,444.94 185.37,443.7 185.68,442.57 185.99,441.45 186.31,440.34 186.62,439.26 186.93,438.2 187.25,437.18 187.56,436.2 187.87,435.27 188.19,434.39 188.5,433.58 188.81,432.83 189.13,432.16 189.44,431.58 189.75,431.08 190.07,430.68 190.38,430.35 190.69,430.03 191.01,429.72 191.32,429.43 191.63,429.15 191.95,428.88 192.26,428.62 192.57,428.37 192.89,428.14 193.2,427.92 193.51,427.7 193.83,427.5 194.14,427.3 194.45,427.12 194.77,426.95 195.08,426.78 195.39,426.62 195.71,426.47 196.02,426.33 196.33,426.2 196.65,426.07 196.96,425.95 197.27,425.84 197.59,425.73 197.9,425.63 198.21,425.53 198.53,425.44 198.84,425.36 199.15,425.27 199.47,425.18 199.78,425.1 200.09,425.02 200.41,424.94 200.72,424.86 201.03,424.78 201.35,424.71 201.66,424.63 201.97,424.56 202.29,424.5 202.6,424.43 202.91,424.36 203.23,424.3 203.54,424.24 203.85,424.18 204.17,424.13 204.48,424.08 204.79,424.03 205.11,423.98 205.42,423.93 205.73,423.89 206.05,423.85 206.36,423.82 206.67,423.78 206.99,423.75 207.3,423.73 207.61,423.7 207.93,423.68 208.24,423.66 208.56,423.65 208.87,423.64 209.18,423.62 209.5,423.61 209.81,423.6 210.12,423.59 210.44,423.58 210.75,423.57 211.06,423.56 211.38,423.55 211.69,423.54 212,423.53 212.32,423.52 212.63,423.51 212.94,423.5 213.26,423.49 213.57,423.49 213.88,423.48 214.2,423.47 214.51,423.47 214.82,423.46 215.14,423.46 215.45,423.45 215.76,423.45 216.08,423.44 216.39,423.44 216.7,423.44 217.02,423.44 217.33,423.43 217.64,423.43 217.96,423.43 218.27,423.43 218.58,423.43 218.9,423.43 219.21,423.43 219.52,423.43 219.84,423.43 220.15,423.43 220.46,423.43 220.78,423.43 221.09,423.43 221.4,423.43 221.72,423.43 222.03,423.43 222.34,423.43 222.66,423.43 222.97,423.43 223.28,423.43 223.6,423.43 223.91,423.43 224.22,423.43 224.54,423.43 224.85,423.43 225.16,423.43 225.48,423.43 225.79,423.43 226.1,423.43 226.42,423.43 226.73,423.43 227.04,423.43 227.36,423.43 227.67,423.43 227.98,423.43 228.3,423.43 228.61,423.43 228.92,423.43 229.24,423.43 229.55,423.43 229.86,423.43 230.18,423.43 230.49,423.43 230.8,423.43 231.12,423.43 231.43,423.43 231.74,423.43 232.06,423.43 232.37,423.43 232.68,423.43 233,423.43 233.31,423.43 233.62,423.43 233.94,423.43 234.25,423.43 234.57,423.43 234.88,423.43 235.19,423.43 235.51,423.43 235.82,423.43 236.13,423.43 236.45,423.43 236.76,423.43 237.07,423.43 237.39,423.43 237.7,423.43 238.01,423.43 238.33,423.43 238.64,423.43 238.95,423.43 239.27,423.43 239.58,423.43 239.89,423.43 240.21,423.43 240.52,423.43 240.83,423.43 241.15,423.43 241.46,423.43 241.77,423.43 242.09,423.43 242.4,423.43 242.71,423.43 243.03,423.43 243.34,423.43 243.65,423.43 243.97,423.43 244.28,423.43 244.59,423.43 244.91,423.43 245.22,423.43 245.53,423.43 245.85,423.43 246.16,423.43 246.47,423.43 246.79,423.43 247.1,423.43 247.41,423.43 247.73,423.43 248.04,423.43 248.35,423.43 248.67,423.43 248.98,423.43 249.29,423.43 249.61,423.43 249.92,423.43 250.23,423.43 250.55,423.43 250.86,423.43 251.17,423.43 251.49,423.43 251.8,423.43 252.11,423.43 252.43,423.43 252.74,423.43 253.05,423.43 253.37,423.43 253.68,423.43 253.99,423.43 254.31,423.43 254.62,423.43 254.93,423.43 255.25,423.43 255.56,423.43 255.87,423.43 256.19,423.43 256.5,423.43 256.81,423.43 257.13,423.43 257.44,423.43 257.75,423.43 258.07,423.43 258.38,423.43 258.69,423.43 259.01,423.43 259.32,423.43 259.64,423.43 259.95,423.43 260.26,423.43 260.58,423.43 260.89,423.43 261.2,423.43 261.52,423.43 261.83,423.43 262.14,423.43 262.46,423.43 262.77,423.43 263.08,423.43 263.4,423.43 263.71,423.43 264.02,423.43 264.34,423.43 264.65,423.43 264.96,423.43 265.28,423.43 265.59,423.43 265.9,423.43 266.22,423.43 266.53,423.43 266.84,423.43 267.16,423.43 267.47,423.43 267.78,423.43 268.1,423.43 268.41,423.43 268.72,423.43 269.04,423.43 269.35,423.43 269.66,423.43 269.98,423.43 270.29,423.43 270.6,423.43 270.92,423.43 271.23,423.43 271.54,423.43 271.86,423.43 272.17,423.43 272.48,423.43 272.8,423.43 273.11,423.43 273.42,423.43 273.74,423.43 274.05,423.43 274.36,423.43 274.68,423.43 274.99,423.43 275.3,423.43 275.62,423.43 275.93,423.43 276.24,423.43 276.56,423.43 276.87,423.43 277.18,423.43 277.5,423.43 277.81,423.43 278.12,423.43 278.44,423.43 278.75,423.43 279.06,423.43 279.38,423.43 279.69,423.43 280,423.43 280.32,423.43 280.63,423.43 280.94,423.43 281.26,423.43 281.57,423.43 281.88,423.43 282.2,423.43 282.51,423.43 282.82,423.43 283.14,423.43 283.45,423.43 283.76,423.43 284.08,423.43 284.39,423.43 284.71,423.43 285.02,423.43 285.33,423.43 285.65,423.43 285.96,423.43 286.27,423.43 286.59,423.43 286.9,423.43 287.21,423.43 287.53,423.43 287.84,423.43 288.15,423.43 288.47,423.43 288.78,423.43 289.09,423.43 289.41,423.43 289.72,423.43 290.03,423.43 290.35,423.43 290.66,423.43 290.97,423.43 291.29,423.43 291.6,423.43 291.91,423.43 292.23,423.43 292.54,423.43 292.85,423.43 293.17,423.43 293.48,423.43 293.79,423.43 294.11,423.43 294.42,423.43 294.73,423.43 295.05,423.43 295.36,423.43 295.67,423.43 295.99,423.43 296.3,423.43" stroke="#dc2329" stroke-width="2.4" fill="none" stroke-linejoin="round"/><rect x="45.6" y="369.6" width="250.7" height="161.5" fill="none" stroke="#2a2a2a" stroke-width="1.4"/><path d="M61.27 531.1v-3.7M61.27 369.6v3.7M76.94 531.1v-3.7M76.94 369.6v3.7M92.61 531.1v-3.7M92.61 369.6v3.7M108.28 531.1v-7.5M108.28 369.6v7.5M123.94 531.1v-3.7M123.94 369.6v3.7M139.61 531.1v-3.7M139.61 369.6v3.7M155.28 531.1v-3.7M155.28 369.6v3.7M170.95 531.1v-7.5M170.95 369.6v7.5M186.62 531.1v-3.7M186.62 369.6v3.7M202.29 531.1v-3.7M202.29 369.6v3.7M217.96 531.1v-3.7M217.96 369.6v3.7M233.62 531.1v-7.5M233.62 369.6v7.5M249.29 531.1v-3.7M249.29 369.6v3.7M264.96 531.1v-3.7M264.96 369.6v3.7M280.63 531.1v-3.7M280.63 369.6v3.7M45.6 477.27h2.6M296.3 477.27h-2.6M45.6 423.43h2.6M296.3 423.43h-2.6" stroke="#2a2a2a" stroke-width="1.1" fill="none"/><text x="23.95" y="377.1" style="font-family:'Liberation Serif',serif;font-size:12.5px;letter-spacing:0.68px;stroke:#000;stroke-width:0.35px">1.5</text><text x="24.1" y="428.23" style="font-family:'Liberation Serif',serif;font-size:12.5px;letter-spacing:0.85px;stroke:#000;stroke-width:0.35px">1.0</text><text x="23.57" y="482.07" style="font-family:'Liberation Serif',serif;font-size:12.5px;letter-spacing:0.87px;stroke:#000;stroke-width:0.35px">0.5</text><text x="23.57" y="531.4" style="font-family:'Liberation Serif',serif;font-size:12.5px;letter-spacing:0.99px;stroke:#000;stroke-width:0.35px">0.0</text><text x="30.63" y="548.2" style="font-family:'Liberation Serif',serif;font-size:12.5px;letter-spacing:1.47px;stroke:#000;stroke-width:0.35px">−400</text><text x="93.45" y="548.2" style="font-family:'Liberation Serif',serif;font-size:12.5px;letter-spacing:1.37px;stroke:#000;stroke-width:0.35px">−200</text><text x="167.79" y="548.2" textLength="6.72" lengthAdjust="spacingAndGlyphs" style="font-family:'Liberation Serif',serif;font-size:12.5px;stroke:#000;stroke-width:0.35px">0</text><text x="223.08" y="548.2" style="font-family:'Liberation Serif',serif;font-size:12.5px;letter-spacing:1.34px;stroke:#000;stroke-width:0.35px">200</text><text x="285.06" y="548.2" style="font-family:'Liberation Serif',serif;font-size:12.5px;letter-spacing:1.34px;stroke:#000;stroke-width:0.35px">400</text><text x="60.81" y="510.4" style="font-family:'Liberation Serif',serif;font-size:16.3px;letter-spacing:0.91px;stroke:#000;stroke-width:0.3px">Si</text><text x="84.13" y="510.4" textLength="4.33" lengthAdjust="spacingAndGlyphs" style="font-family:'Liberation Serif',serif;font-size:16.3px;stroke:#000;stroke-width:0.3px">I</text><text x="89.48" y="510.4" textLength="4.33" lengthAdjust="spacingAndGlyphs" style="font-family:'Liberation Serif',serif;font-size:16.3px;stroke:#000;stroke-width:0.3px">I</text><text x="94.83" y="510.4" textLength="4.33" lengthAdjust="spacingAndGlyphs" style="font-family:'Liberation Serif',serif;font-size:16.3px;stroke:#000;stroke-width:0.3px">I</text><text x="108.47" y="510.4" style="font-family:'Liberation Serif',serif;font-size:16.3px;letter-spacing:1.43px;stroke:#000;stroke-width:0.3px">1207</text><clipPath id="c5"><rect x="338.6" y="369.6" width="250.3" height="161.5"/></clipPath><path d="M463.75 531.1V369.6" stroke="#7e7e7e" stroke-width="1.2" stroke-dasharray="6.2 3.4 1.3 3.35" stroke-dashoffset="-0.8" fill="none"/><path clip-path="url(#c5)" d="M339.18 439.43 340.33 431.66 341.48 445.65 342.62 434.77 343.78 423.88 344.93 408.33 346.08 425.44 347.23 412.99 348.38 414.55 349.53 422.33 350.68 418.44 351.82 426.99 352.98 385.78 354.12 425.44 355.28 409.88 356.43 412.22 357.58 422.33 358.73 425.44 359.88 414.55 361.03 423.88 362.18 439.43 363.33 423.88 364.48 406.77 365.62 420.77 366.78 430.1 367.93 411.44 369.08 439.43 370.23 434.77 371.38 422.33 372.53 434.77 373.68 430.1 374.82 423.88 375.98 405.22 377.12 406.77 378.28 428.55 379.43 409.88 380.58 431.66 381.73 409.88 382.88 420.77 384.03 417.66 385.18 433.21 386.33 423.88 387.48 439.43 388.62 420.77 389.78 436.32 390.93 412.99 392.08 422.33 393.23 434.77 394.38 416.1 395.53 400.55 396.68 436.32 397.83 411.44 398.98 444.1 400.12 430.1 401.28 458.09 402.43 430.1 403.58 387.33 404.73 422.33 405.88 436.32 407.03 419.21 408.18 427.69 409.33 431.66 410.48 419.99 411.62 420.77 412.78 430.1 413.93 442.54 415.07 423.88 416.23 403.66 417.38 405.22 418.53 426.99 419.68 416.1 420.82 436.32 421.98 426.41 423.12 446.57 424.27 426.71 425.43 418.76 426.58 402.87 427.73 424.72 428.88 430.68 430.02 408.83 431.18 434.65 432.32 406.85 433.48 428.69 434.62 418.76 435.77 438.62 436.93 418.76 438.08 444.58 439.23 440.61 440.38 446.57 441.52 426.71 442.68 434.65 443.82 424.72 444.98 442.6 446.12 432.67 447.27 452.53 448.43 460.47 449.57 450.54 450.73 456.5 451.88 468.42 453.02 464.44 454.18 476.36 455.32 468.42 456.48 472.39 457.62 484.3 458.77 494.24 459.93 482.32 461.07 488.28 462.23 464.44 463.38 480.33 464.52 468.42 465.68 450.54 466.83 460.47 467.98 444.58 469.12 440.61 470.27 452.53 471.43 444.58 472.58 434.65 473.73 444.58 474.88 416.78 476.02 440.61 477.18 416.78 478.33 444.58 479.48 416.78 480.62 393.94 481.77 446.57 482.93 416.78 484.07 444.58 485.23 418.76 486.38 424.72 487.52 444.58 488.68 442.6 489.83 424.72 490.98 414.79 492.12 424.72 493.27 450.54 494.43 442.6 495.57 424.72 496.73 434.65 497.88 426.71 499.02 408.83 500.18 410.82 501.32 430.68 502.48 402.87 503.62 434.65 504.77 434.65 505.92 414.79 507.08 414.55 508.23 450.32 509.38 430.1 510.52 436.32 511.67 415.33 512.83 433.21 513.98 423.88 515.12 436.32 516.27 436.32 517.42 420.77 518.58 419.21 519.73 431.66 520.88 436.32 522.03 423.88 523.17 428.55 524.33 414.55 525.48 430.1 526.62 445.65 527.77 422.33 528.92 399.77 530.08 430.1 531.23 422.33 532.38 430.1 533.52 444.1 534.67 423.88 535.83 434.77 536.98 423.88 538.12 451.87 539.27 423.88 540.42 412.22 541.58 428.55 542.73 423.88 543.88 412.99 545.02 417.66 546.17 420.77 547.33 437.88 548.48 426.27 549.62 423.88 550.77 422.33 551.92 411.44 553.08 426.99 554.23 422.33 555.38 425.44 556.52 386.56 557.67 411.44 558.83 423.88 559.98 417.66 561.12 433.21 562.27 442.54 563.42 423.88 564.58 433.21 565.73 423.88 566.88 419.21 568.02 428.55 569.17 393.55 570.33 426.99 571.48 423.88 572.62 406.77 573.77 430.1 574.92 420.77 576.08 428.55 577.23 411.44 578.38 426.99 579.52 402.11 580.67 422.33 581.83 416.1 582.98 440.99 584.12 408.33 585.27 423.88 586.42 409.88 587.58 426.99 588.73 419.08 589.88 423.43" stroke="#000" stroke-width="1.25" fill="none" shape-rendering="auto"/><polyline points="338.6,423.43 338.91,423.43 339.23,423.43 339.54,423.43 339.85,423.43 340.16,423.43 340.48,423.43 340.79,423.43 341.1,423.43 341.42,423.43 341.73,423.43 342.04,423.43 342.35,423.43 342.67,423.43 342.98,423.43 343.29,423.43 343.61,423.43 343.92,423.43 344.23,423.43 344.54,423.43 344.86,423.43 345.17,423.43 345.48,423.43 345.8,423.43 346.11,423.43 346.42,423.43 346.73,423.43 347.05,423.43 347.36,423.43 347.67,423.43 347.99,423.43 348.3,423.43 348.61,423.43 348.92,423.43 349.24,423.43 349.55,423.43 349.86,423.43 350.18,423.43 350.49,423.43 350.8,423.43 351.12,423.43 351.43,423.43 351.74,423.43 352.05,423.43 352.37,423.43 352.68,423.43 352.99,423.43 353.31,423.43 353.62,423.43 353.93,423.43 354.24,423.43 354.56,423.43 354.87,423.43 355.18,423.43 355.5,423.43 355.81,423.43 356.12,423.43 356.43,423.43 356.75,423.43 357.06,423.43 357.37,423.43 357.69,423.43 358,423.43 358.31,423.43 358.62,423.43 358.94,423.43 359.25,423.43 359.56,423.43 359.88,423.43 360.19,423.43 360.5,423.43 360.81,423.43 361.13,423.43 361.44,423.43 361.75,423.43 362.07,423.43 362.38,423.43 362.69,423.43 363,423.43 363.32,423.43 363.63,423.43 363.94,423.43 364.26,423.43 364.57,423.43 364.88,423.43 365.19,423.43 365.51,423.43 365.82,423.43 366.13,423.43 366.45,423.43 366.76,423.43 367.07,423.43 367.38,423.43 367.7,423.43 368.01,423.43 368.32,423.43 368.64,423.43 368.95,423.43 369.26,423.43 369.57,423.43 369.89,423.43 370.2,423.43 370.51,423.43 370.83,423.43 371.14,423.43 371.45,423.43 371.76,423.43 372.08,423.43 372.39,423.43 372.7,423.43 373.02,423.43 373.33,423.43 373.64,423.43 373.95,423.43 374.27,423.43 374.58,423.43 374.89,423.43 375.21,423.43 375.52,423.43 375.83,423.43 376.14,423.43 376.46,423.43 376.77,423.43 377.08,423.43 377.4,423.43 377.71,423.43 378.02,423.43 378.34,423.43 378.65,423.43 378.96,423.43 379.27,423.43 379.59,423.43 379.9,423.43 380.21,423.43 380.53,423.43 380.84,423.43 381.15,423.43 381.46,423.43 381.78,423.43 382.09,423.43 382.4,423.43 382.72,423.43 383.03,423.43 383.34,423.43 383.65,423.43 383.97,423.43 384.28,423.43 384.59,423.43 384.91,423.43 385.22,423.43 385.53,423.43 385.84,423.43 386.16,423.43 386.47,423.43 386.78,423.43 387.1,423.43 387.41,423.43 387.72,423.43 388.03,423.43 388.35,423.43 388.66,423.43 388.97,423.43 389.29,423.43 389.6,423.43 389.91,423.43 390.22,423.43 390.54,423.43 390.85,423.43 391.16,423.43 391.48,423.43 391.79,423.43 392.1,423.43 392.41,423.43 392.73,423.43 393.04,423.43 393.35,423.43 393.67,423.43 393.98,423.43 394.29,423.43 394.6,423.43 394.92,423.43 395.23,423.43 395.54,423.43 395.86,423.43 396.17,423.43 396.48,423.43 396.79,423.43 397.11,423.43 397.42,423.43 397.73,423.43 398.05,423.43 398.36,423.43 398.67,423.43 398.98,423.43 399.3,423.43 399.61,423.43 399.92,423.43 400.24,423.43 400.55,423.43 400.86,423.43 401.18,423.43 401.49,423.43 401.8,423.43 402.11,423.43 402.43,423.43 402.74,423.43 403.05,423.43 403.37,423.43 403.68,423.43 403.99,423.43 404.3,423.43 404.62,423.43 404.93,423.43 405.24,423.43 405.56,423.43 405.87,423.43 406.18,423.43 406.49,423.43 406.81,423.43 407.12,423.43 407.43,423.43 407.75,423.43 408.06,423.43 408.37,423.43 408.68,423.43 409,423.43 409.31,423.43 409.62,423.43 409.94,423.43 410.25,423.43 410.56,423.43 410.87,423.43 411.19,423.43 411.5,423.43 411.81,423.43 412.13,423.43 412.44,423.43 412.75,423.43 413.06,423.43 413.38,423.43 413.69,423.43 414,423.43 414.32,423.43 414.63,423.43 414.94,423.43 415.25,423.43 415.57,423.43 415.88,423.43 416.19,423.43 416.51,423.43 416.82,423.43 417.13,423.43 417.44,423.44 417.76,423.44 418.07,423.44 418.38,423.45 418.7,423.45 419.01,423.46 419.32,423.46 419.63,423.47 419.95,423.48 420.26,423.49 420.57,423.5 420.89,423.51 421.2,423.52 421.51,423.53 421.82,423.54 422.14,423.55 422.45,423.57 422.76,423.58 423.08,423.6 423.39,423.61 423.7,423.63 424.01,423.64 424.33,423.66 424.64,423.67 424.95,423.69 425.27,423.71 425.58,423.72 425.89,423.74 426.2,423.76 426.52,423.77 426.83,423.79 427.14,423.82 427.46,423.84 427.77,423.86 428.08,423.89 428.4,423.92 428.71,423.95 429.02,423.98 429.33,424.01 429.65,424.05 429.96,424.09 430.27,424.13 430.59,424.17 430.9,424.21 431.21,424.26 431.52,424.3 431.84,424.35 432.15,424.4 432.46,424.46 432.78,424.51 433.09,424.57 433.4,424.63 433.71,424.69 434.03,424.75 434.34,424.82 434.65,424.89 434.97,424.97 435.28,425.05 435.59,425.15 435.9,425.25 436.22,425.36 436.53,425.48 436.84,425.61 437.16,425.75 437.47,425.9 437.78,426.05 438.09,426.22 438.41,426.4 438.72,426.58 439.03,426.78 439.35,426.98 439.66,427.2 439.97,427.43 440.28,427.66 440.6,427.91 440.91,428.17 441.22,428.43 441.54,428.72 441.85,429.07 442.16,429.48 442.47,429.96 442.79,430.5 443.1,431.09 443.41,431.73 443.73,432.41 444.04,433.14 444.35,433.9 444.66,434.69 444.98,435.51 445.29,436.35 445.6,437.28 445.92,438.36 446.23,439.56 446.54,440.85 446.85,442.21 447.17,443.61 447.48,445.02 447.79,446.42 448.11,447.78 448.42,449.08 448.73,450.34 449.04,451.59 449.36,452.85 449.67,454.1 449.98,455.35 450.3,456.6 450.61,457.85 450.92,459.09 451.24,460.34 451.55,461.58 451.86,462.83 452.17,464.09 452.49,465.36 452.8,466.62 453.11,467.87 453.43,469.12 453.74,470.36 454.05,471.58 454.36,472.77 454.68,473.95 454.99,475.15 455.3,476.37 455.62,477.61 455.93,478.84 456.24,480.04 456.55,481.18 456.87,482.25 457.18,483.22 457.49,484.07 457.81,484.8 458.12,485.5 458.43,486.2 458.74,486.87 459.06,487.46 459.37,487.95 459.68,488.29 460,488.45 460.31,488.42 460.62,488.23 460.93,487.9 461.25,487.45 461.56,486.92 461.87,486.31 462.19,485.66 462.5,484.99 462.81,484.3 463.12,483.46 463.44,482.46 463.75,481.31 464.06,480.06 464.38,478.73 464.69,477.34 465,475.94 465.31,474.54 465.63,473.16 465.94,471.72 466.25,470.2 466.57,468.63 466.88,467.01 467.19,465.38 467.5,463.74 467.82,462.11 468.13,460.51 468.44,458.96 468.76,457.46 469.07,455.96 469.38,454.46 469.69,452.96 470.01,451.48 470.32,450.03 470.63,448.61 470.95,447.24 471.26,445.93 471.57,444.69 471.88,443.51 472.2,442.32 472.51,441.13 472.82,439.94 473.14,438.78 473.45,437.66 473.76,436.58 474.07,435.56 474.39,434.62 474.7,433.75 475.01,432.98 475.33,432.32 475.64,431.78 475.95,431.3 476.26,430.85 476.58,430.41 476.89,429.99 477.2,429.58 477.52,429.2 477.83,428.84 478.14,428.5 478.46,428.18 478.77,427.88 479.08,427.61 479.39,427.35 479.71,427.12 480.02,426.9 480.33,426.71 480.65,426.55 480.96,426.4 481.27,426.28 481.58,426.16 481.9,426.05 482.21,425.94 482.52,425.83 482.84,425.73 483.15,425.62 483.46,425.53 483.77,425.43 484.09,425.34 484.4,425.25 484.71,425.17 485.03,425.08 485.34,425 485.65,424.93 485.96,424.85 486.28,424.78 486.59,424.72 486.9,424.65 487.22,424.59 487.53,424.53 487.84,424.47 488.15,424.42 488.47,424.37 488.78,424.32 489.09,424.27 489.41,424.23 489.72,424.19 490.03,424.15 490.34,424.12 490.66,424.08 490.97,424.05 491.28,424.02 491.6,424 491.91,423.97 492.22,423.95 492.53,423.93 492.85,423.9 493.16,423.88 493.47,423.86 493.79,423.84 494.1,423.82 494.41,423.8 494.72,423.78 495.04,423.76 495.35,423.74 495.66,423.72 495.98,423.7 496.29,423.68 496.6,423.67 496.91,423.65 497.23,423.63 497.54,423.62 497.85,423.6 498.17,423.59 498.48,423.57 498.79,423.56 499.1,423.55 499.42,423.53 499.73,423.52 500.04,423.51 500.36,423.5 500.67,423.49 500.98,423.48 501.29,423.47 501.61,423.47 501.92,423.46 502.23,423.45 502.55,423.45 502.86,423.44 503.17,423.44 503.49,423.44 503.8,423.44 504.11,423.43 504.42,423.43 504.74,423.43 505.05,423.43 505.36,423.43 505.68,423.43 505.99,423.43 506.3,423.43 506.61,423.43 506.93,423.43 507.24,423.43 507.55,423.43 507.87,423.43 508.18,423.43 508.49,423.43 508.8,423.43 509.12,423.43 509.43,423.43 509.74,423.43 510.06,423.43 510.37,423.43 510.68,423.43 510.99,423.43 511.31,423.43 511.62,423.43 511.93,423.43 512.25,423.43 512.56,423.43 512.87,423.43 513.18,423.43 513.5,423.43 513.81,423.43 514.12,423.43 514.44,423.43 514.75,423.43 515.06,423.43 515.37,423.43 515.69,423.43 516,423.43 516.31,423.43 516.63,423.43 516.94,423.43 517.25,423.43 517.56,423.43 517.88,423.43 518.19,423.43 518.5,423.43 518.82,423.43 519.13,423.43 519.44,423.43 519.75,423.43 520.07,423.43 520.38,423.43 520.69,423.43 521.01,423.43 521.32,423.43 521.63,423.43 521.94,423.43 522.26,423.43 522.57,423.43 522.88,423.43 523.2,423.43 523.51,423.43 523.82,423.43 524.13,423.43 524.45,423.43 524.76,423.43 525.07,423.43 525.39,423.43 525.7,423.43 526.01,423.43 526.33,423.43 526.64,423.43 526.95,423.43 527.26,423.43 527.58,423.43 527.89,423.43 528.2,423.43 528.52,423.43 528.83,423.43 529.14,423.43 529.45,423.43 529.77,423.43 530.08,423.43 530.39,423.43 530.71,423.43 531.02,423.43 531.33,423.43 531.64,423.43 531.96,423.43 532.27,423.43 532.58,423.43 532.9,423.43 533.21,423.43 533.52,423.43 533.83,423.43 534.15,423.43 534.46,423.43 534.77,423.43 535.09,423.43 535.4,423.43 535.71,423.43 536.02,423.43 536.34,423.43 536.65,423.43 536.96,423.43 537.28,423.43 537.59,423.43 537.9,423.43 538.21,423.43 538.53,423.43 538.84,423.43 539.15,423.43 539.47,423.43 539.78,423.43 540.09,423.43 540.4,423.43 540.72,423.43 541.03,423.43 541.34,423.43 541.66,423.43 541.97,423.43 542.28,423.43 542.59,423.43 542.91,423.43 543.22,423.43 543.53,423.43 543.85,423.43 544.16,423.43 544.47,423.43 544.78,423.43 545.1,423.43 545.41,423.43 545.72,423.43 546.04,423.43 546.35,423.43 546.66,423.43 546.97,423.43 547.29,423.43 547.6,423.43 547.91,423.43 548.23,423.43 548.54,423.43 548.85,423.43 549.16,423.43 549.48,423.43 549.79,423.43 550.1,423.43 550.42,423.43 550.73,423.43 551.04,423.43 551.36,423.43 551.67,423.43 551.98,423.43 552.29,423.43 552.61,423.43 552.92,423.43 553.23,423.43 553.55,423.43 553.86,423.43 554.17,423.43 554.48,423.43 554.8,423.43 555.11,423.43 555.42,423.43 555.74,423.43 556.05,423.43 556.36,423.43 556.67,423.43 556.99,423.43 557.3,423.43 557.61,423.43 557.93,423.43 558.24,423.43 558.55,423.43 558.86,423.43 559.18,423.43 559.49,423.43 559.8,423.43 560.12,423.43 560.43,423.43 560.74,423.43 561.05,423.43 561.37,423.43 561.68,423.43 561.99,423.43 562.31,423.43 562.62,423.43 562.93,423.43 563.24,423.43 563.56,423.43 563.87,423.43 564.18,423.43 564.5,423.43 564.81,423.43 565.12,423.43 565.43,423.43 565.75,423.43 566.06,423.43 566.37,423.43 566.69,423.43 567,423.43 567.31,423.43 567.62,423.43 567.94,423.43 568.25,423.43 568.56,423.43 568.88,423.43 569.19,423.43 569.5,423.43 569.81,423.43 570.13,423.43 570.44,423.43 570.75,423.43 571.07,423.43 571.38,423.43 571.69,423.43 572,423.43 572.32,423.43 572.63,423.43 572.94,423.43 573.26,423.43 573.57,423.43 573.88,423.43 574.19,423.43 574.51,423.43 574.82,423.43 575.13,423.43 575.45,423.43 575.76,423.43 576.07,423.43 576.38,423.43 576.7,423.43 577.01,423.43 577.32,423.43 577.64,423.43 577.95,423.43 578.26,423.43 578.58,423.43 578.89,423.43 579.2,423.43 579.51,423.43 579.83,423.43 580.14,423.43 580.45,423.43 580.77,423.43 581.08,423.43 581.39,423.43 581.7,423.43 582.02,423.43 582.33,423.43 582.64,423.43 582.96,423.43 583.27,423.43 583.58,423.43 583.89,423.43 584.21,423.43 584.52,423.43 584.83,423.43 585.15,423.43 585.46,423.43 585.77,423.43 586.08,423.43 586.4,423.43 586.71,423.43 587.02,423.43 587.34,423.43 587.65,423.43 587.96,423.43 588.27,423.43 588.59,423.43 588.9,423.43" stroke="#dc2329" stroke-width="2.4" fill="none" stroke-linejoin="round"/><rect x="338.6" y="369.6" width="250.3" height="161.5" fill="none" stroke="#2a2a2a" stroke-width="1.4"/><path d="M354.24 531.1v-3.7M354.24 369.6v3.7M369.89 531.1v-3.7M369.89 369.6v3.7M385.53 531.1v-3.7M385.53 369.6v3.7M401.18 531.1v-7.5M401.18 369.6v7.5M416.82 531.1v-3.7M416.82 369.6v3.7M432.46 531.1v-3.7M432.46 369.6v3.7M448.11 531.1v-3.7M448.11 369.6v3.7M463.75 531.1v-7.5M463.75 369.6v7.5M479.39 531.1v-3.7M479.39 369.6v3.7M495.04 531.1v-3.7M495.04 369.6v3.7M510.68 531.1v-3.7M510.68 369.6v3.7M526.33 531.1v-7.5M526.33 369.6v7.5M541.97 531.1v-3.7M541.97 369.6v3.7M557.61 531.1v-3.7M557.61 369.6v3.7M573.26 531.1v-3.7M573.26 369.6v3.7M338.6 477.27h2.6M588.9 477.27h-2.6M338.6 423.43h2.6M588.9 423.43h-2.6" stroke="#2a2a2a" stroke-width="1.1" fill="none"/><text x="316.95" y="377.1" style="font-family:'Liberation Serif',serif;font-size:12.5px;letter-spacing:0.68px;stroke:#000;stroke-width:0.35px">1.5</text><text x="317.1" y="428.23" style="font-family:'Liberation Serif',serif;font-size:12.5px;letter-spacing:0.85px;stroke:#000;stroke-width:0.35px">1.0</text><text x="316.57" y="482.07" style="font-family:'Liberation Serif',serif;font-size:12.5px;letter-spacing:0.87px;stroke:#000;stroke-width:0.35px">0.5</text><text x="316.57" y="531.4" style="font-family:'Liberation Serif',serif;font-size:12.5px;letter-spacing:0.99px;stroke:#000;stroke-width:0.35px">0.0</text><text x="323.63" y="548.2" style="font-family:'Liberation Serif',serif;font-size:12.5px;letter-spacing:1.47px;stroke:#000;stroke-width:0.35px">−400</text><text x="386.35" y="548.2" style="font-family:'Liberation Serif',serif;font-size:12.5px;letter-spacing:1.37px;stroke:#000;stroke-width:0.35px">−200</text><text x="460.59" y="548.2" textLength="6.72" lengthAdjust="spacingAndGlyphs" style="font-family:'Liberation Serif',serif;font-size:12.5px;stroke:#000;stroke-width:0.35px">0</text><text x="515.78" y="548.2" style="font-family:'Liberation Serif',serif;font-size:12.5px;letter-spacing:1.34px;stroke:#000;stroke-width:0.35px">200</text><text x="577.66" y="548.2" style="font-family:'Liberation Serif',serif;font-size:12.5px;letter-spacing:1.34px;stroke:#000;stroke-width:0.35px">400</text><text x="354.02" y="510.4" textLength="9.47" lengthAdjust="spacingAndGlyphs" style="font-family:'Liberation Serif',serif;font-size:16.3px;stroke:#000;stroke-width:0.3px">C</text><text x="371.53" y="510.4" textLength="4.33" lengthAdjust="spacingAndGlyphs" style="font-family:'Liberation Serif',serif;font-size:16.3px;stroke:#000;stroke-width:0.3px">I</text><text x="377.43" y="510.4" textLength="4.33" lengthAdjust="spacingAndGlyphs" style="font-family:'Liberation Serif',serif;font-size:16.3px;stroke:#000;stroke-width:0.3px">I</text><text x="390.87" y="510.4" style="font-family:'Liberation Serif',serif;font-size:16.3px;letter-spacing:1.36px;stroke:#000;stroke-width:0.3px">1335</text><text x="93.1" y="574.4" style="font-family:'Liberation Serif',serif;font-size:17.4px;letter-spacing:1.08px;stroke:#000;stroke-width:0.35px">Velocity</text><text x="171.24" y="574.4" style="font-family:'Liberation Serif',serif;font-size:17.4px;letter-spacing:2.45px;stroke:#000;stroke-width:0.35px">(km</text><text x="214.08" y="574.4" textLength="8.73" lengthAdjust="spacingAndGlyphs" style="font-family:'Liberation Serif',serif;font-size:17.4px;stroke:#000;stroke-width:0.35px">s</text><text x="224.05" y="566.6" textLength="6.18" lengthAdjust="spacingAndGlyphs" style="font-family:'Liberation Serif',serif;font-size:10px;stroke:#000;stroke-width:0.35px">−</text><text x="232.58" y="566.8" textLength="4.12" lengthAdjust="spacingAndGlyphs" style="font-family:'Liberation Serif',serif;font-size:10px;stroke:#000;stroke-width:0.35px">1</text><text x="239.21" y="574.4" textLength="4.02" lengthAdjust="spacingAndGlyphs" style="font-family:'Liberation Serif',serif;font-size:19.5px;stroke:#000;stroke-width:0.35px">)</text><text x="385.9" y="574.4" style="font-family:'Liberation Serif',serif;font-size:17.4px;letter-spacing:1.08px;stroke:#000;stroke-width:0.35px">Velocity</text><text x="464.04" y="574.4" style="font-family:'Liberation Serif',serif;font-size:17.4px;letter-spacing:2.45px;stroke:#000;stroke-width:0.35px">(km</text><text x="506.88" y="574.4" textLength="8.73" lengthAdjust="spacingAndGlyphs" style="font-family:'Liberation Serif',serif;font-size:17.4px;stroke:#000;stroke-width:0.35px">s</text><text x="516.85" y="566.6" textLength="6.18" lengthAdjust="spacingAndGlyphs" style="font-family:'Liberation Serif',serif;font-size:10px;stroke:#000;stroke-width:0.35px">−</text><text x="525.38" y="566.8" textLength="4.12" lengthAdjust="spacingAndGlyphs" style="font-family:'Liberation Serif',serif;font-size:10px;stroke:#000;stroke-width:0.35px">1</text><text x="532.01" y="574.4" textLength="4.02" lengthAdjust="spacingAndGlyphs" style="font-family:'Liberation Serif',serif;font-size:19.5px;stroke:#000;stroke-width:0.35px">)</text><g transform="rotate(-90)"><text x="-303.5" y="11.9" style="font-family:'Liberation Serif',serif;font-size:17.4px;letter-spacing:1.89px;stroke:#000;stroke-width:0.35px">Normalized Flux</text></g></svg></body></html>
